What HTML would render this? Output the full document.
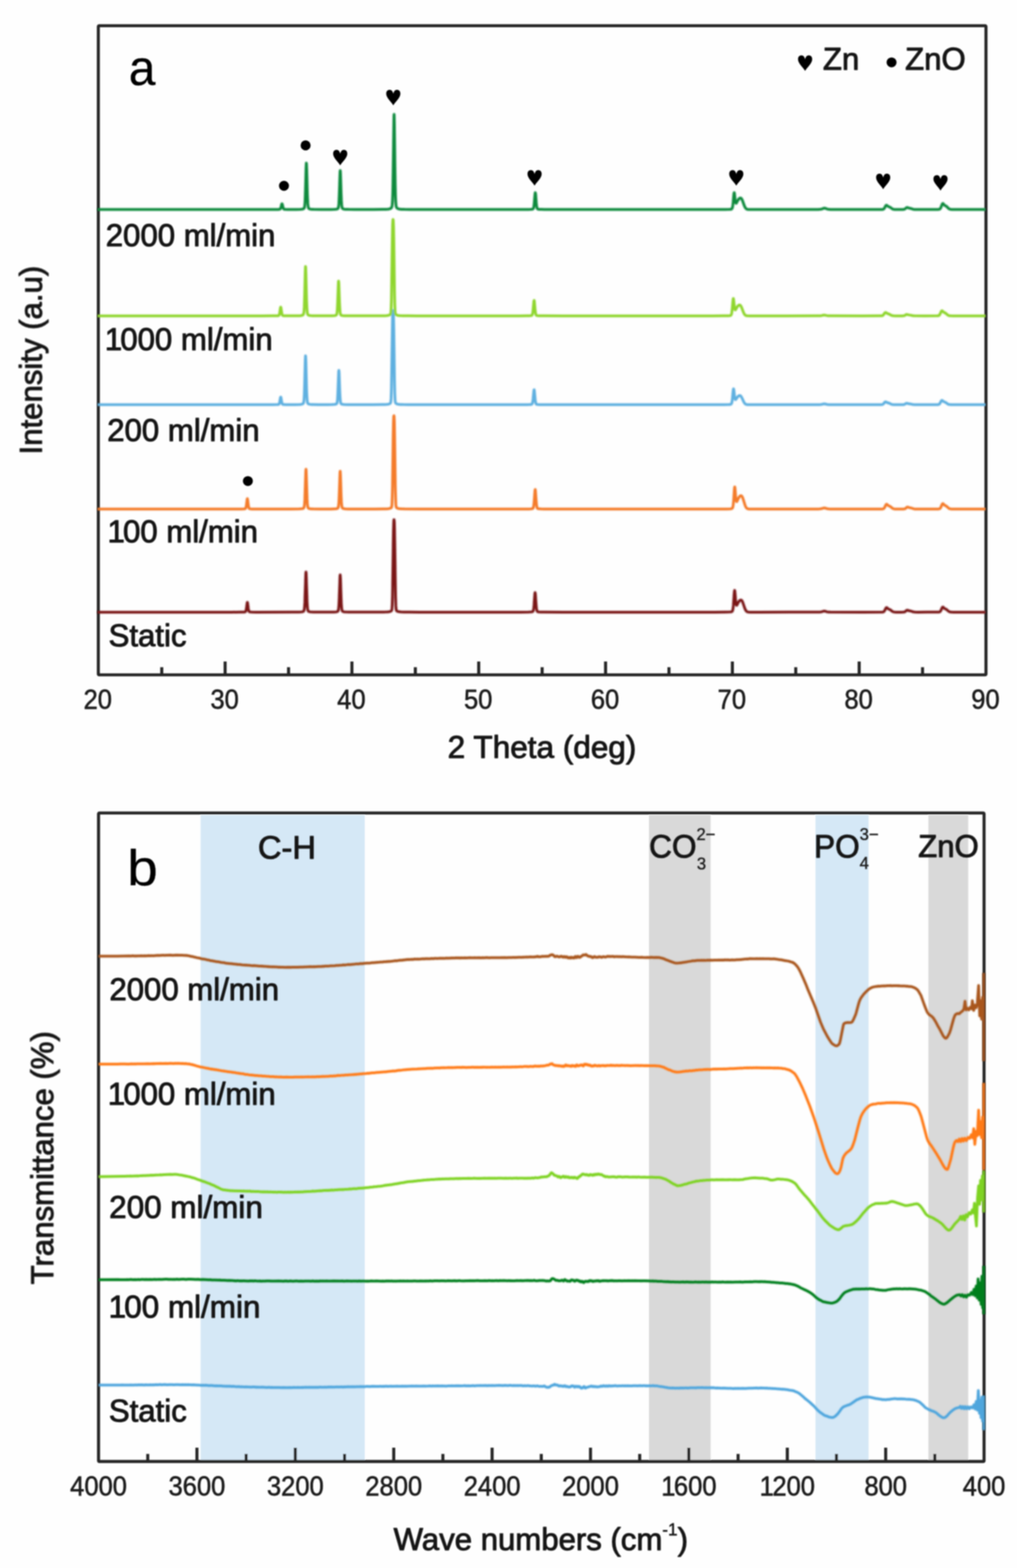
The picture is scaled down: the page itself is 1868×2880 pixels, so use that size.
<!DOCTYPE html>
<html lang="en">
<head>
<meta charset="utf-8">
<title>XRD patterns and FTIR spectra</title>
<style>
html,body{margin:0;padding:0;background:#fefefe;}
body{width:1868px;height:2880px;overflow:hidden;}
svg{display:block;}
</style>
</head>
<body>
<svg width="1868" height="2880" viewBox="0 0 1868 2880" font-family='"Liberation Sans", Arial, Helvetica, sans-serif' fill="#161616" stroke="#161616" stroke-width="1.6" stroke-linejoin="round">
<defs><filter id="soft" x="-2%" y="-2%" width="104%" height="104%"><feGaussianBlur stdDeviation="1.0"/></filter><filter id="softc" x="-2%" y="-2%" width="104%" height="104%"><feGaussianBlur stdDeviation="1.35"/></filter></defs>
<rect width="1868" height="2880" fill="#fefefe" stroke="none"/>
<g filter="url(#soft)">
<rect x="368.5" y="1497.3" width="301.5" height="1185.1" fill="#d5e8f6" stroke="none"/>
<rect x="1192.0" y="1497.3" width="113.3" height="1185.1" fill="#d9d9d9" stroke="none"/>
<rect x="1497.8" y="1497.3" width="97.6" height="1185.1" fill="#d5e8f6" stroke="none"/>
<rect x="1705.2" y="1497.3" width="73.2" height="1185.1" fill="#d9d9d9" stroke="none"/>
<rect x="180.6" y="47.2" width="1630.4" height="1192.3" rx="1.5" ry="1.5" fill="none" stroke="#262626" stroke-width="5.6"/>
<rect x="181.0" y="1493.3" width="1626.5" height="1191.1" rx="1.5" ry="1.5" fill="none" stroke="#262626" stroke-width="5.6"/>
<path d="M297.1 1239.5v-14M413.5 1239.5v-24.5M530.0 1239.5v-14M646.4 1239.5v-24.5M762.9 1239.5v-14M879.3 1239.5v-24.5M995.8 1239.5v-14M1112.3 1239.5v-24.5M1228.7 1239.5v-14M1345.2 1239.5v-24.5M1461.6 1239.5v-14M1578.1 1239.5v-24.5M1694.5 1239.5v-14M271.4 2684.4v-14M361.7 2684.4v-25.5M452.1 2684.4v-14M542.4 2684.4v-25.5M632.8 2684.4v-14M723.2 2684.4v-25.5M813.5 2684.4v-14M903.9 2684.4v-25.5M994.2 2684.4v-14M1084.6 2684.4v-25.5M1175.0 2684.4v-14M1265.3 2684.4v-25.5M1355.7 2684.4v-14M1446.1 2684.4v-25.5M1536.4 2684.4v-14M1626.8 2684.4v-25.5M1717.1 2684.4v-14" stroke="#262626" stroke-width="5.6" fill="none"/>
</g>
<g filter="url(#softc)">
<path d="M179.1 1124.4L426.1 1124.4L442.1 1124.3L448.1 1124.2L449.9 1124.0L450.6 1123.6L451.1 1123.1L451.6 1122.0L452.1 1120.0L452.4 1118.6L453.9 1107.6L454.1 1106.6L454.4 1106.4L454.6 1106.9L454.9 1108.1L456.1 1117.6L456.4 1119.2L456.9 1121.5L457.1 1122.3L457.6 1123.2L458.1 1123.7L458.6 1123.9L459.1 1124.0L462.6 1124.3L470.4 1124.4L534.6 1124.3L549.1 1124.2L552.6 1124.0L555.1 1123.7L556.4 1123.4L557.1 1123.1L557.6 1122.7L558.1 1122.0L558.6 1120.6L558.9 1119.4L559.4 1114.9L559.9 1106.7L560.1 1100.8L561.4 1060.6L561.6 1054.5L561.9 1051.0L562.1 1050.7L562.4 1053.6L562.6 1059.2L563.9 1099.5L564.1 1105.6L564.6 1114.3L565.1 1119.0L565.6 1121.3L566.1 1122.4L566.6 1122.9L567.1 1123.2L568.4 1123.6L570.1 1123.9L572.4 1124.1L575.4 1124.2L587.6 1124.3L606.9 1124.3L613.1 1124.2L616.9 1123.9L618.4 1123.7L619.4 1123.4L620.1 1123.0L620.6 1122.6L621.1 1121.8L621.6 1120.0L622.1 1116.2L622.4 1113.1L622.6 1109.0L623.1 1097.4L624.4 1060.7L624.6 1056.9L624.9 1055.9L625.1 1058.1L625.4 1062.9L626.6 1100.1L627.1 1110.8L627.6 1117.2L628.1 1120.5L628.6 1122.0L628.9 1122.4L629.4 1122.9L630.1 1123.3L631.4 1123.7L632.9 1123.9L634.9 1124.1L641.1 1124.3L653.4 1124.3L687.9 1124.3L704.6 1124.2L709.1 1124.1L712.4 1123.9L714.9 1123.6L716.6 1123.1L717.6 1122.7L718.4 1122.3L718.9 1121.9L719.4 1121.1L719.6 1120.3L719.9 1118.8L720.1 1116.2L720.4 1111.8L720.9 1095.2L721.1 1082.0L722.1 1008.5L722.6 977.0L722.9 966.4L723.1 959.4L723.4 955.7L723.6 954.5L723.9 954.6L724.1 956.2L724.4 960.5L724.6 968.2L725.1 994.5L726.4 1084.9L726.6 1097.4L727.1 1112.9L727.4 1116.8L727.6 1119.2L727.9 1120.5L728.1 1121.2L728.6 1121.9L729.6 1122.6L731.1 1123.2L732.9 1123.6L736.6 1124.0L742.6 1124.2L752.6 1124.3L770.9 1124.4L956.1 1124.4L970.6 1124.3L974.1 1124.1L976.4 1123.9L977.9 1123.6L978.6 1123.2L979.1 1122.5L979.4 1121.9L979.9 1119.9L980.4 1116.5L980.9 1111.2L981.9 1096.6L982.4 1090.5L982.6 1088.8L982.9 1088.4L983.1 1089.3L983.4 1091.4L984.6 1109.2L985.1 1115.1L985.4 1117.3L985.9 1120.4L986.4 1122.1L986.6 1122.6L987.1 1123.2L987.6 1123.6L988.1 1123.7L989.9 1124.0L993.4 1124.2L999.6 1124.3L1035.1 1124.4L1312.1 1124.4L1332.3 1124.3L1340.3 1124.1L1343.1 1123.8L1343.8 1123.6L1344.6 1123.2L1345.1 1122.6L1345.3 1122.2L1345.8 1120.8L1346.1 1119.7L1346.6 1116.4L1347.1 1111.4L1348.3 1093.1L1348.8 1086.9L1349.1 1085.1L1349.3 1084.4L1349.6 1084.9L1349.8 1086.5L1350.1 1088.9L1351.1 1101.6L1351.6 1106.7L1352.1 1109.9L1352.3 1110.9L1352.6 1111.5L1352.8 1111.8L1353.1 1111.8L1353.3 1111.7L1353.6 1111.4L1356.3 1106.1L1357.3 1104.6L1358.3 1103.4L1359.3 1102.6L1360.1 1102.2L1360.8 1102.1L1361.6 1102.3L1362.1 1102.6L1362.6 1103.2L1363.1 1103.9L1363.8 1105.4L1365.1 1108.7L1367.8 1116.8L1368.8 1119.2L1369.8 1121.1L1370.8 1122.4L1371.3 1122.9L1372.1 1123.4L1373.3 1124.0L1375.1 1124.3L1378.3 1124.4L1393.8 1124.4L1502.3 1124.3L1505.3 1124.2L1507.6 1124.0L1509.3 1123.6L1512.6 1122.6L1514.1 1122.4L1515.6 1122.6L1518.6 1123.6L1520.3 1124.0L1522.3 1124.2L1525.1 1124.3L1584.6 1124.4L1620.1 1124.3L1621.3 1124.2L1622.3 1124.0L1623.1 1123.7L1623.8 1123.0L1624.8 1121.7L1626.8 1117.6L1627.3 1116.8L1627.8 1116.2L1628.1 1116.1L1628.6 1116.0L1628.8 1116.0L1629.3 1116.3L1630.8 1117.8L1631.6 1118.4L1632.3 1118.8L1634.3 1119.5L1635.1 1119.9L1636.1 1120.6L1638.3 1122.5L1639.3 1123.1L1640.1 1123.5L1641.1 1123.9L1642.1 1124.1L1643.3 1124.3L1646.3 1124.4L1655.3 1124.4L1658.8 1124.3L1660.3 1124.2L1661.3 1124.0L1662.1 1123.7L1663.1 1123.0L1664.6 1121.6L1665.3 1121.1L1666.1 1120.7L1666.6 1120.7L1667.3 1120.9L1669.6 1121.8L1673.1 1122.4L1677.3 1123.8L1678.8 1124.1L1680.3 1124.3L1686.3 1124.4L1722.8 1124.3L1724.3 1124.2L1725.3 1124.1L1726.1 1123.8L1726.8 1123.2L1727.6 1122.3L1728.1 1121.4L1730.1 1116.9L1730.6 1116.0L1731.1 1115.3L1731.3 1115.1L1731.8 1115.0L1732.1 1115.0L1732.6 1115.3L1734.3 1117.2L1735.1 1117.8L1735.8 1118.2L1737.6 1118.9L1738.6 1119.5L1741.6 1122.2L1742.8 1123.1L1744.3 1123.8L1745.3 1124.1L1746.3 1124.2L1748.1 1124.3L1751.3 1124.4L1810.3 1124.4" fill="none" stroke="#7a1216" stroke-width="5.0" stroke-linejoin="round" stroke-linecap="butt"/>
<path d="M179.1 935.0L426.1 935.0L442.1 934.9L448.1 934.8L449.9 934.5L450.6 934.2L451.1 933.6L451.6 932.4L452.1 930.3L452.4 928.8L453.9 917.2L454.1 916.2L454.4 916.0L454.6 916.6L454.9 917.8L456.1 927.8L456.4 929.5L456.9 931.9L457.1 932.7L457.6 933.8L458.1 934.3L458.6 934.5L459.1 934.6L460.4 934.8L462.6 934.9L470.1 935.0L534.1 934.9L549.1 934.8L552.6 934.6L555.1 934.3L556.4 934.0L557.1 933.7L557.6 933.3L558.1 932.6L558.6 931.2L558.9 930.0L559.4 925.6L559.9 917.4L560.1 911.6L561.4 871.6L561.6 865.6L561.9 862.1L562.1 861.8L562.4 864.6L562.6 870.3L563.9 910.3L564.1 916.4L564.6 925.0L565.1 929.7L565.6 931.9L566.1 933.0L566.6 933.5L567.1 933.8L568.4 934.2L570.1 934.5L572.4 934.7L575.4 934.8L587.9 934.9L607.1 934.9L613.1 934.7L616.9 934.5L618.4 934.2L619.4 934.0L620.1 933.6L620.6 933.2L621.1 932.4L621.6 930.5L622.1 926.7L622.4 923.5L622.6 919.4L623.1 907.6L624.4 870.3L624.6 866.5L624.9 865.5L625.1 867.7L625.4 872.6L626.6 910.3L627.1 921.2L627.6 927.7L628.1 931.0L628.6 932.6L628.9 933.0L629.4 933.5L630.1 933.9L631.4 934.3L632.9 934.5L634.9 934.7L640.9 934.9L652.6 934.9L687.4 934.9L704.4 934.8L708.9 934.7L712.1 934.5L714.6 934.2L716.4 933.7L717.4 933.4L718.1 932.9L718.6 932.5L719.1 931.8L719.4 931.0L719.6 929.7L719.9 927.4L720.1 923.4L720.6 907.8L720.9 895.2L722.1 803.9L722.6 777.4L722.9 769.7L723.1 765.3L723.4 763.7L723.6 763.6L723.9 764.8L724.1 768.5L724.4 775.6L724.6 786.3L725.1 818.0L726.1 892.2L726.4 905.5L726.9 922.3L727.1 926.7L727.4 929.3L727.6 930.8L727.9 931.7L728.4 932.5L728.9 932.9L729.6 933.3L731.1 933.9L732.9 934.2L736.9 934.6L743.1 934.8L772.6 935.0L956.4 935.0L970.9 934.9L974.4 934.7L976.6 934.5L978.1 934.2L978.9 933.7L979.4 933.0L979.6 932.3L980.1 930.3L980.6 926.7L981.1 921.1L982.4 903.2L982.6 900.7L982.9 899.2L983.1 899.1L983.4 900.3L983.6 902.6L985.1 923.6L985.4 926.2L985.9 930.0L986.4 932.2L986.6 932.9L987.1 933.7L987.6 934.1L988.1 934.3L990.1 934.6L993.9 934.8L1000.1 934.9L1037.6 935.0L1312.6 935.0L1332.6 934.9L1340.6 934.7L1343.1 934.4L1343.8 934.2L1344.6 933.9L1345.1 933.5L1345.3 933.1L1345.8 932.0L1346.1 931.1L1346.6 928.4L1347.1 924.1L1347.6 917.9L1348.8 899.1L1349.1 896.5L1349.3 894.9L1349.6 894.4L1349.8 895.1L1350.1 896.9L1351.3 912.0L1351.8 916.9L1352.3 919.9L1352.6 920.8L1352.8 921.2L1353.1 921.4L1353.3 921.3L1353.8 920.7L1356.6 914.8L1357.3 913.5L1358.3 912.1L1359.3 911.1L1360.3 910.5L1361.1 910.4L1361.8 910.7L1362.3 911.1L1362.8 911.7L1363.3 912.5L1364.1 914.2L1365.1 917.0L1368.1 926.8L1369.1 929.4L1369.8 931.0L1370.8 932.6L1371.3 933.2L1372.1 933.8L1372.8 934.3L1373.6 934.5L1375.3 934.9L1378.6 935.0L1392.8 935.0L1502.3 934.9L1505.3 934.8L1507.6 934.6L1509.3 934.2L1512.6 933.2L1514.1 933.0L1515.6 933.2L1518.6 934.2L1520.3 934.6L1522.3 934.8L1525.1 934.9L1588.1 935.0L1620.1 934.9L1621.3 934.8L1622.3 934.6L1623.1 934.2L1623.8 933.6L1624.8 932.1L1626.8 927.8L1627.3 927.0L1627.8 926.4L1628.1 926.2L1628.6 926.1L1628.8 926.1L1629.3 926.5L1630.8 928.0L1631.6 928.6L1632.3 929.0L1634.3 929.8L1635.1 930.3L1636.1 931.0L1638.3 932.9L1639.3 933.6L1640.1 934.0L1641.1 934.4L1642.1 934.7L1643.3 934.9L1646.3 935.0L1655.3 935.0L1659.1 934.9L1660.8 934.8L1661.8 934.6L1662.6 934.3L1663.6 933.6L1665.1 932.2L1665.8 931.7L1666.6 931.3L1667.1 931.3L1667.8 931.5L1670.1 932.4L1673.6 933.0L1677.8 934.4L1679.3 934.7L1680.8 934.9L1687.1 935.0L1722.8 934.9L1724.3 934.8L1725.3 934.6L1726.1 934.3L1726.8 933.7L1727.6 932.7L1728.1 931.8L1730.1 927.1L1730.6 926.1L1731.1 925.3L1731.3 925.1L1731.8 925.0L1732.1 925.0L1732.6 925.4L1734.1 927.1L1734.8 927.8L1735.6 928.3L1737.3 929.1L1738.3 929.7L1739.3 930.5L1741.6 932.6L1742.6 933.4L1743.3 933.9L1744.3 934.4L1745.3 934.6L1746.3 934.8L1748.1 934.9L1751.3 935.0L1810.3 935.0" fill="none" stroke="#f47b2a" stroke-width="5.0" stroke-linejoin="round" stroke-linecap="butt"/>
<path d="M179.1 743.3L480.1 743.3L501.4 743.3L508.9 743.1L510.6 743.0L511.6 742.8L512.1 742.5L512.4 742.3L512.9 741.5L513.4 740.0L513.6 739.0L515.1 730.4L515.4 729.6L515.6 729.3L515.9 729.6L516.1 730.4L517.4 737.7L517.9 740.0L518.1 740.9L518.6 742.0L519.1 742.5L519.6 742.8L521.1 743.1L524.6 743.2L541.9 743.2L550.1 743.0L552.6 742.7L554.4 742.4L555.4 742.1L556.1 741.8L556.6 741.4L557.1 740.8L557.6 739.5L557.9 738.4L558.4 734.4L558.9 726.5L559.1 720.5L559.6 704.2L560.6 664.0L560.9 657.2L561.1 653.6L561.4 654.0L561.6 658.3L561.9 665.7L563.1 714.6L563.4 721.8L563.9 731.8L564.4 737.2L564.9 739.7L565.4 740.9L565.9 741.5L566.4 741.8L567.6 742.3L569.1 742.6L571.1 742.9L574.1 743.0L584.4 743.2L602.6 743.2L610.1 743.1L614.4 742.8L615.9 742.6L617.1 742.3L617.9 741.9L618.4 741.5L618.9 740.5L619.4 738.4L619.9 734.1L620.1 730.7L620.6 720.9L621.9 686.7L622.1 682.3L622.4 680.3L622.6 681.2L622.9 684.7L624.1 718.5L624.6 729.1L624.9 732.9L625.1 735.7L625.6 739.2L626.1 740.9L626.4 741.3L626.9 741.9L627.6 742.3L628.9 742.6L630.4 742.8L632.4 743.0L638.9 743.2L651.6 743.2L685.4 743.2L702.1 743.1L706.9 743.0L710.1 742.8L712.6 742.5L714.4 742.1L715.4 741.7L716.4 741.1L716.9 740.7L717.4 739.9L717.6 739.1L717.9 737.6L718.1 735.2L718.4 731.2L718.9 716.0L719.1 704.1L720.4 616.3L720.9 588.5L721.1 579.6L721.4 573.9L721.6 571.1L721.9 570.3L722.1 570.6L722.4 572.5L722.6 576.9L722.9 584.5L723.4 609.8L724.6 698.4L725.1 721.7L725.4 729.0L725.6 733.8L725.9 736.8L726.1 738.6L726.4 739.6L726.6 740.2L726.9 740.6L727.4 741.1L728.4 741.6L729.6 742.1L731.4 742.5L735.1 742.9L740.6 743.1L749.6 743.2L765.4 743.3L953.9 743.3L968.6 743.2L972.1 743.1L974.6 742.9L976.1 742.7L976.9 742.3L977.4 741.7L977.6 741.3L978.1 739.7L978.6 736.9L979.1 732.7L980.4 719.0L980.6 717.1L980.9 716.0L981.1 715.9L981.4 716.8L981.6 718.5L983.1 734.6L983.4 736.6L983.9 739.5L984.4 741.1L984.6 741.7L985.1 742.3L985.6 742.6L986.1 742.7L988.1 743.0L991.6 743.2L997.6 743.2L1031.8 743.3L1310.1 743.3L1330.3 743.2L1338.3 743.1L1341.1 742.9L1341.8 742.7L1342.6 742.4L1343.1 742.0L1343.3 741.7L1343.8 740.7L1344.1 739.9L1344.6 737.5L1345.1 733.9L1346.3 720.5L1346.8 716.0L1347.1 714.7L1347.3 714.2L1347.6 714.6L1347.8 715.7L1348.1 717.5L1349.1 726.6L1349.6 730.3L1350.1 732.6L1350.3 733.3L1350.6 733.7L1350.8 733.9L1351.1 733.9L1351.6 733.6L1354.3 729.6L1355.3 728.4L1356.3 727.6L1357.3 726.9L1358.1 726.6L1358.8 726.6L1359.6 726.7L1360.1 727.0L1360.6 727.4L1361.1 728.0L1361.8 729.1L1363.1 731.5L1365.8 737.6L1366.8 739.4L1367.8 740.8L1368.8 741.8L1370.1 742.6L1371.3 743.0L1373.1 743.2L1376.3 743.3L1391.8 743.3L1502.3 743.2L1505.3 743.2L1507.6 743.0L1509.3 742.7L1512.6 741.9L1514.1 741.8L1515.6 742.0L1518.6 742.7L1520.3 743.0L1522.3 743.2L1524.8 743.2L1562.6 743.3L1618.1 743.2L1620.3 743.1L1621.1 742.8L1621.8 742.5L1622.8 741.6L1624.8 739.1L1625.3 738.6L1626.1 738.1L1626.6 738.1L1627.3 738.3L1629.6 739.5L1633.1 740.5L1636.3 742.1L1637.6 742.6L1639.3 743.0L1641.3 743.2L1644.3 743.3L1654.8 743.3L1659.3 743.2L1660.3 743.0L1661.1 742.8L1662.1 742.3L1664.3 740.9L1665.1 740.7L1665.6 740.7L1666.3 740.8L1668.8 741.5L1672.3 742.0L1676.3 742.9L1677.8 743.1L1679.3 743.2L1686.1 743.3L1721.3 743.2L1722.8 743.2L1723.8 743.0L1724.6 742.7L1725.3 742.2L1726.1 741.4L1726.6 740.6L1728.8 736.4L1729.6 735.6L1730.1 735.4L1730.6 735.5L1731.1 735.8L1732.6 737.1L1733.6 737.8L1735.8 738.7L1737.1 739.3L1739.8 741.3L1741.1 742.1L1741.8 742.5L1742.8 742.8L1744.6 743.1L1746.3 743.2L1749.6 743.3L1810.3 743.3" fill="none" stroke="#5fb0e0" stroke-width="5.0" stroke-linejoin="round" stroke-linecap="butt"/>
<path d="M179.1 580.2L480.6 580.2L501.6 580.1L508.9 580.0L510.6 579.9L511.6 579.7L512.1 579.3L512.4 579.1L512.9 578.2L513.4 576.5L513.6 575.3L515.1 565.5L515.4 564.5L515.6 564.2L515.9 564.5L516.1 565.5L517.4 573.8L517.9 576.5L518.1 577.4L518.6 578.7L519.1 579.3L519.6 579.6L520.1 579.8L521.1 579.9L524.4 580.1L540.9 580.1L549.9 579.9L552.4 579.7L554.4 579.3L555.4 579.0L556.1 578.7L556.6 578.3L557.1 577.7L557.6 576.4L557.9 575.3L558.4 571.2L558.9 563.2L559.1 557.1L559.6 540.6L560.6 500.1L560.9 493.1L561.1 489.5L561.4 489.9L561.6 494.2L561.9 501.8L563.1 551.2L563.4 558.5L563.9 568.6L564.4 574.0L564.9 576.6L565.4 577.8L565.9 578.4L566.4 578.7L567.6 579.2L569.1 579.5L571.1 579.8L574.1 579.9L584.4 580.1L602.4 580.1L609.9 580.0L614.1 579.7L615.6 579.5L616.6 579.2L617.4 578.8L617.9 578.4L618.4 577.4L618.9 575.3L619.4 570.9L619.6 567.4L620.1 557.5L621.4 522.7L621.6 518.2L621.9 516.2L622.1 517.1L622.4 520.6L623.6 555.0L624.1 565.8L624.4 569.6L624.6 572.5L625.1 576.1L625.6 577.8L625.9 578.2L626.4 578.8L627.1 579.2L628.4 579.5L629.9 579.7L632.1 579.9L638.6 580.1L651.6 580.1L685.6 580.1L702.1 580.0L706.9 579.9L710.1 579.7L712.6 579.3L714.4 578.9L715.4 578.5L716.4 578.0L716.9 577.5L717.4 576.7L717.6 575.9L717.9 574.4L718.1 571.9L718.4 567.8L718.9 552.3L719.1 540.1L720.4 450.3L720.9 421.8L721.1 412.7L721.4 406.9L721.6 404.0L721.9 403.2L722.1 403.5L722.4 405.4L722.6 410.0L722.9 417.7L723.4 443.6L724.6 534.3L725.1 558.2L725.4 565.6L725.6 570.5L725.9 573.6L726.1 575.4L726.4 576.4L726.6 577.0L726.9 577.4L727.4 577.9L728.4 578.5L729.6 579.0L731.4 579.4L735.1 579.8L740.6 580.0L749.6 580.1L765.4 580.2L953.9 580.2L968.6 580.1L972.1 580.0L974.6 579.8L976.1 579.6L976.9 579.2L977.4 578.6L977.6 578.1L978.1 576.5L978.6 573.6L979.1 569.2L980.4 555.0L980.6 553.0L980.9 551.9L981.1 551.8L981.4 552.7L981.6 554.5L983.1 571.2L983.4 573.2L983.9 576.2L984.4 578.0L984.6 578.5L985.1 579.1L985.6 579.4L986.1 579.6L988.1 579.9L991.6 580.1L997.9 580.1L1033.3 580.2L1309.3 580.2L1329.8 580.1L1337.8 580.0L1340.6 579.7L1341.3 579.6L1342.1 579.3L1342.6 578.9L1342.8 578.6L1343.3 577.6L1343.6 576.8L1344.1 574.4L1344.6 570.7L1345.1 565.6L1346.1 553.4L1346.6 549.2L1346.8 548.3L1347.1 548.3L1347.3 549.2L1347.8 553.0L1348.6 560.6L1349.1 564.8L1349.6 567.5L1349.8 568.4L1350.1 568.9L1350.3 569.2L1350.6 569.2L1351.1 568.8L1351.6 568.0L1353.8 564.0L1354.8 562.6L1355.8 561.5L1356.8 560.7L1357.6 560.3L1358.3 560.2L1359.1 560.3L1359.8 560.8L1360.3 561.4L1360.8 562.1L1361.6 563.5L1362.6 565.8L1365.6 573.8L1366.6 575.9L1367.3 577.1L1368.3 578.3L1368.8 578.8L1369.6 579.3L1370.3 579.6L1371.1 579.9L1372.8 580.1L1376.1 580.2L1391.1 580.2L1502.3 580.1L1505.3 580.1L1507.6 579.9L1509.3 579.6L1512.6 578.8L1514.1 578.7L1515.6 578.9L1518.6 579.6L1520.3 579.9L1522.3 580.1L1525.1 580.1L1583.3 580.2L1618.1 580.1L1619.3 580.1L1620.3 579.9L1621.1 579.6L1621.8 579.2L1622.8 578.1L1624.8 575.1L1625.3 574.5L1626.1 574.0L1626.6 573.9L1627.3 574.2L1628.8 575.2L1629.6 575.7L1630.3 576.0L1632.3 576.6L1633.1 576.9L1636.3 578.7L1637.3 579.2L1639.1 579.8L1641.3 580.1L1644.3 580.2L1653.6 580.2L1657.6 580.2L1659.3 580.1L1660.3 579.9L1661.1 579.7L1662.1 579.2L1664.3 577.8L1665.1 577.6L1665.6 577.6L1666.3 577.7L1668.8 578.4L1672.3 578.9L1676.3 579.8L1677.8 580.0L1679.6 580.1L1697.6 580.2L1721.3 580.1L1722.8 580.0L1723.8 579.8L1724.6 579.5L1725.3 578.9L1726.1 577.9L1726.6 577.0L1728.8 572.1L1729.6 571.0L1730.1 570.8L1730.6 570.9L1731.1 571.2L1732.6 572.8L1733.6 573.6L1735.8 574.6L1736.8 575.2L1737.8 576.0L1739.8 577.8L1741.1 578.8L1741.8 579.2L1742.8 579.6L1743.8 579.9L1744.8 580.0L1746.6 580.1L1749.8 580.2L1810.3 580.2" fill="none" stroke="#8fd62f" stroke-width="5.0" stroke-linejoin="round" stroke-linecap="butt"/>
<path d="M179.1 384.8L480.4 384.8L503.1 384.8L510.9 384.7L512.6 384.6L513.6 384.4L514.4 384.1L514.9 383.6L515.4 382.7L515.6 382.1L516.1 380.4L517.4 375.2L517.6 374.6L517.9 374.3L518.1 374.4L518.4 374.9L518.6 375.7L519.9 380.9L520.4 382.5L520.6 383.0L521.1 383.8L521.6 384.2L522.1 384.4L523.6 384.6L527.4 384.7L544.6 384.7L551.9 384.5L554.1 384.3L555.9 384.0L556.9 383.7L557.6 383.4L558.1 383.0L558.6 382.4L559.1 381.2L559.4 380.2L559.9 376.3L560.4 368.8L560.6 363.1L561.1 347.6L562.1 309.5L562.4 303.0L562.6 299.6L562.9 300.0L563.1 304.0L563.4 311.1L564.6 357.6L564.9 364.4L565.4 373.9L565.9 379.0L566.4 381.4L566.9 382.5L567.4 383.1L567.9 383.4L569.1 383.9L570.9 384.2L573.1 384.4L576.1 384.6L588.6 384.7L607.9 384.7L613.9 384.5L617.4 384.2L618.6 384.0L619.6 383.7L620.4 383.3L620.9 382.7L621.4 381.7L621.9 379.3L622.4 374.4L622.6 370.6L623.1 359.4L624.4 320.6L624.6 315.6L624.9 313.3L625.1 314.3L625.4 318.3L626.6 356.6L627.1 368.7L627.4 373.0L627.6 376.2L628.1 380.2L628.6 382.1L628.9 382.6L629.4 383.2L630.1 383.6L631.1 384.0L632.6 384.2L634.6 384.4L640.4 384.6L651.4 384.7L685.9 384.7L703.6 384.6L708.4 384.5L711.9 384.2L714.4 383.9L716.1 383.5L717.4 382.9L718.4 382.2L719.1 381.4L719.6 380.3L720.1 378.2L720.4 376.3L720.9 369.6L721.4 355.9L721.6 345.5L722.1 315.9L723.4 222.0L723.6 212.3L723.9 210.0L724.1 215.4L724.4 227.6L725.4 305.0L725.9 337.8L726.4 359.4L726.9 371.3L727.4 377.1L727.9 379.8L728.4 381.1L729.1 382.1L729.6 382.5L730.4 383.0L731.9 383.6L733.6 384.0L737.4 384.4L743.1 384.6L752.6 384.7L769.4 384.8L956.4 384.8L971.1 384.7L974.6 384.6L976.9 384.4L978.4 384.1L979.1 383.6L979.6 382.9L979.9 382.4L980.4 380.5L980.9 377.2L981.1 375.0L982.6 356.9L982.9 354.9L983.1 353.9L983.4 354.0L983.6 355.2L983.9 357.4L985.1 372.9L985.6 377.6L986.1 380.7L986.6 382.5L986.9 383.0L987.4 383.7L987.9 384.0L988.4 384.2L990.4 384.5L993.9 384.6L999.9 384.7L1032.6 384.8L1311.3 384.8L1331.6 384.7L1339.6 384.6L1342.1 384.4L1342.8 384.2L1343.6 384.0L1344.3 383.4L1344.8 382.5L1345.1 381.8L1345.6 379.8L1346.1 376.5L1346.6 371.8L1347.8 357.5L1348.1 355.5L1348.3 354.2L1348.6 353.8L1348.8 354.3L1349.1 355.6L1350.3 366.8L1350.8 370.3L1351.1 371.6L1351.3 372.5L1351.6 373.1L1351.8 373.3L1352.1 373.4L1352.3 373.3L1352.6 373.0L1353.1 372.2L1354.6 369.2L1355.6 367.5L1356.6 366.0L1357.6 364.9L1358.6 364.1L1359.3 363.8L1360.1 363.7L1360.8 363.9L1361.3 364.2L1361.8 364.8L1362.3 365.5L1363.1 366.9L1364.1 369.3L1367.1 377.8L1368.1 380.0L1369.1 381.8L1370.1 383.0L1370.6 383.4L1371.3 383.9L1372.1 384.3L1372.8 384.5L1374.6 384.7L1378.8 384.8L1414.1 384.8L1485.1 384.8L1502.8 384.7L1505.8 384.6L1507.8 384.3L1509.6 383.8L1512.8 382.6L1513.6 382.4L1514.3 382.3L1515.1 382.4L1515.8 382.5L1519.1 383.8L1520.6 384.2L1522.6 384.6L1525.3 384.7L1556.8 384.8L1619.6 384.7L1620.8 384.7L1621.8 384.5L1622.6 384.2L1623.3 383.7L1624.1 382.9L1624.6 382.1L1626.8 377.9L1627.6 377.1L1628.1 376.9L1628.6 377.0L1629.1 377.3L1630.6 378.6L1631.6 379.3L1633.8 380.2L1635.1 380.8L1637.8 382.8L1639.1 383.6L1639.8 384.0L1640.8 384.3L1641.8 384.5L1643.1 384.7L1646.1 384.8L1656.1 384.8L1658.6 384.7L1660.1 384.6L1661.1 384.3L1661.8 384.0L1662.8 383.3L1664.8 381.5L1665.6 381.2L1666.1 381.1L1666.8 381.2L1669.1 382.1L1672.6 382.8L1676.8 384.2L1678.3 384.5L1680.1 384.7L1687.6 384.8L1722.8 384.7L1724.3 384.6L1725.3 384.4L1726.1 384.0L1726.8 383.4L1727.6 382.3L1728.1 381.3L1730.1 376.1L1730.6 375.0L1731.1 374.2L1731.3 373.9L1731.8 373.8L1732.1 373.8L1732.6 374.2L1734.3 376.4L1735.1 377.1L1735.8 377.5L1737.6 378.4L1738.6 379.1L1741.6 382.2L1742.6 383.1L1743.3 383.6L1744.3 384.1L1745.3 384.4L1746.3 384.6L1748.1 384.7L1751.3 384.8L1810.3 384.8" fill="none" stroke="#0a8a3c" stroke-width="5.0" stroke-linejoin="round" stroke-linecap="butt"/>
<path d="M181.0 2544.1L222.0 2544.1L224.0 2543.8L226.5 2544.1L229.0 2543.9L231.0 2544.1L233.5 2544.0L238.0 2544.1L240.0 2543.7L242.0 2544.1L244.0 2544.1L244.5 2543.9L247.0 2543.9L248.0 2543.7L250.0 2543.7L250.5 2543.9L255.0 2543.6L257.5 2543.7L260.0 2543.6L265.0 2544.0L267.5 2543.5L270.0 2543.8L272.0 2543.7L274.5 2543.8L276.0 2543.6L278.5 2543.8L281.5 2543.6L283.0 2543.7L286.0 2543.3L290.0 2543.6L294.0 2543.1L297.0 2543.5L302.5 2543.1L306.5 2543.5L311.5 2543.2L313.5 2543.3L315.5 2543.2L319.5 2543.4L323.5 2543.2L325.5 2543.3L326.5 2543.2L332.0 2543.4L335.0 2543.2L339.0 2543.5L340.5 2543.2L342.5 2543.4L346.0 2543.3L347.0 2543.5L350.5 2543.4L352.0 2543.8L355.0 2543.5L361.5 2544.0L364.0 2543.9L364.5 2544.1L370.0 2544.4L372.5 2544.2L375.0 2544.6L378.0 2544.3L384.0 2544.9L385.5 2544.9L386.0 2544.7L388.0 2544.7L395.5 2545.4L398.0 2545.2L399.5 2545.4L406.5 2545.4L408.0 2545.8L410.0 2546.0L413.0 2546.0L414.5 2546.2L417.0 2546.1L420.5 2546.3L422.0 2546.1L424.5 2546.4L428.5 2546.3L430.0 2546.4L432.5 2546.9L435.0 2547.0L438.0 2546.7L441.0 2547.3L442.0 2547.1L449.0 2547.4L451.5 2547.2L454.5 2547.5L455.5 2547.4L460.5 2547.7L464.5 2547.4L465.5 2547.6L468.0 2547.5L470.0 2548.0L472.0 2547.7L474.5 2548.0L475.5 2547.9L480.5 2548.0L481.5 2547.8L490.0 2548.4L494.0 2548.0L496.0 2548.4L499.5 2548.2L502.0 2548.6L507.5 2548.4L509.5 2548.6L513.5 2548.4L516.0 2548.7L520.0 2548.4L528.0 2548.7L532.0 2548.5L536.0 2548.7L540.0 2548.3L541.5 2548.6L543.5 2548.4L545.0 2548.6L547.0 2548.3L549.5 2548.6L550.5 2548.4L552.0 2548.4L553.0 2548.6L555.5 2548.3L557.0 2548.5L558.5 2548.3L562.0 2548.1L564.5 2548.3L568.5 2548.0L572.0 2548.3L573.0 2548.1L577.5 2548.3L579.0 2548.1L581.5 2548.2L582.5 2548.0L585.0 2548.2L588.0 2547.6L589.0 2547.9L591.5 2547.9L592.5 2548.1L593.5 2547.9L595.5 2548.0L598.0 2547.7L598.5 2548.0L600.5 2547.9L603.0 2547.6L605.5 2547.7L607.0 2547.5L613.5 2547.7L617.5 2547.5L618.5 2547.6L621.0 2547.4L622.0 2547.7L624.0 2547.4L626.5 2547.4L627.0 2547.3L630.0 2547.7L632.5 2547.2L634.5 2547.5L639.0 2547.1L642.5 2547.3L646.5 2547.0L649.0 2547.2L650.0 2547.0L652.0 2547.2L654.5 2547.0L659.5 2547.1L662.5 2546.8L666.0 2547.1L668.0 2546.7L670.5 2546.9L672.0 2546.6L675.0 2546.6L679.5 2546.8L684.0 2546.3L685.0 2546.5L687.5 2546.3L689.5 2546.6L691.0 2546.4L693.5 2546.6L696.0 2546.4L697.0 2546.4L698.0 2546.2L701.5 2546.5L704.5 2546.2L707.0 2546.4L708.0 2546.1L708.5 2546.3L709.5 2546.1L712.0 2546.4L715.0 2546.2L717.5 2546.2L718.0 2546.0L720.5 2546.4L722.0 2546.2L726.5 2546.2L729.0 2545.9L731.5 2546.2L735.5 2546.2L739.0 2545.9L743.5 2546.2L744.5 2545.9L747.0 2546.2L750.5 2545.9L753.5 2546.1L755.5 2545.8L761.0 2546.1L763.5 2545.7L768.5 2546.0L772.5 2545.9L774.5 2546.0L778.0 2545.7L782.5 2545.9L786.5 2545.8L789.5 2545.5L792.0 2545.9L794.5 2545.6L796.0 2545.8L804.5 2545.5L809.5 2545.8L812.0 2545.6L814.0 2545.8L816.5 2545.7L820.5 2545.9L823.0 2545.4L827.0 2545.6L828.5 2545.4L829.0 2545.5L829.5 2545.3L832.0 2545.6L833.5 2545.4L836.0 2545.5L838.0 2545.2L839.5 2545.4L841.0 2545.3L846.0 2545.5L851.5 2545.3L853.5 2545.0L856.0 2545.5L859.5 2545.2L864.5 2545.5L869.0 2545.1L871.5 2545.4L876.0 2545.0L878.5 2545.1L880.0 2544.9L881.0 2545.1L883.5 2544.8L884.0 2545.0L885.5 2545.1L892.5 2544.8L895.0 2545.2L897.5 2544.7L900.5 2545.0L903.0 2544.7L909.0 2545.0L912.0 2544.7L917.5 2544.6L919.5 2544.8L921.0 2544.7L923.0 2544.9L924.0 2544.8L925.0 2544.9L927.5 2544.5L932.5 2545.0L937.0 2544.5L938.5 2544.6L941.0 2545.1L944.5 2544.7L948.5 2544.9L950.5 2544.7L953.0 2544.9L956.5 2544.7L958.0 2544.8L959.5 2545.3L961.5 2545.4L964.5 2545.0L966.0 2545.5L968.0 2545.3L968.5 2545.1L970.5 2545.1L972.5 2545.6L975.0 2545.6L977.0 2545.9L979.5 2545.5L980.5 2545.5L983.5 2546.0L984.5 2546.0L987.0 2545.3L989.5 2546.3L991.5 2546.4L993.5 2546.1L996.0 2546.6L998.0 2546.2L999.5 2545.6L1001.0 2546.3L1002.0 2547.1L1003.5 2547.7L1004.0 2548.1L1004.5 2547.9L1005.5 2548.0L1006.0 2548.3L1006.5 2547.9L1007.0 2548.2L1008.5 2547.7L1009.0 2547.9L1010.5 2546.9L1012.0 2545.5L1013.0 2545.0L1013.5 2545.1L1014.0 2544.6L1014.5 2544.8L1015.5 2544.1L1016.5 2544.3L1017.0 2543.6L1019.0 2542.6L1020.0 2543.7L1020.5 2543.5L1021.0 2543.8L1022.0 2544.0L1022.5 2543.7L1023.0 2543.9L1023.5 2543.8L1024.5 2544.1L1025.5 2545.3L1027.0 2545.9L1027.5 2545.4L1028.0 2545.5L1029.0 2545.0L1029.5 2545.2L1030.0 2545.8L1031.0 2545.7L1031.5 2546.0L1032.0 2546.0L1032.5 2545.6L1033.0 2545.8L1033.5 2546.3L1034.0 2546.4L1034.5 2546.1L1035.0 2546.6L1036.0 2545.6L1036.5 2545.3L1037.0 2545.5L1037.5 2545.2L1038.0 2545.3L1038.5 2546.4L1039.0 2546.4L1039.5 2547.0L1040.0 2546.8L1040.5 2546.9L1041.0 2546.5L1041.5 2546.5L1042.0 2546.2L1043.0 2547.2L1044.5 2547.7L1045.5 2547.2L1047.0 2547.5L1048.5 2546.7L1049.5 2545.6L1050.0 2545.6L1050.5 2545.9L1051.5 2545.6L1052.0 2545.9L1053.0 2545.5L1054.5 2547.3L1055.5 2548.0L1057.0 2546.3L1057.5 2546.2L1058.0 2546.1L1058.5 2546.6L1059.0 2546.5L1059.5 2546.7L1060.0 2547.3L1060.5 2546.6L1061.0 2546.4L1061.5 2547.2L1062.0 2547.1L1062.5 2546.6L1063.5 2547.3L1064.0 2546.5L1064.5 2546.6L1065.0 2547.2L1066.0 2547.7L1067.0 2549.3L1068.5 2549.8L1069.5 2549.2L1070.5 2549.0L1071.5 2547.3L1072.0 2547.4L1073.0 2546.7L1074.0 2548.7L1074.5 2549.0L1075.0 2549.1L1075.5 2549.6L1077.0 2548.4L1078.0 2548.0L1078.5 2548.2L1080.0 2547.6L1081.0 2547.5L1082.5 2546.7L1083.0 2546.8L1084.5 2546.3L1085.0 2546.5L1085.5 2546.0L1086.5 2545.7L1087.5 2546.5L1089.0 2547.1L1089.5 2546.9L1090.0 2546.2L1090.5 2546.2L1091.5 2546.7L1092.5 2546.8L1093.0 2547.2L1094.0 2546.8L1094.5 2546.9L1095.0 2546.8L1096.5 2547.3L1097.0 2547.2L1097.5 2547.6L1099.0 2546.9L1101.5 2547.1L1102.0 2546.6L1103.5 2545.8L1104.0 2545.8L1104.5 2546.2L1105.0 2546.0L1106.0 2546.4L1107.5 2545.7L1108.0 2545.2L1108.5 2545.0L1109.5 2545.4L1110.5 2546.1L1111.0 2545.9L1111.5 2546.3L1112.0 2546.3L1112.5 2545.8L1113.5 2545.9L1114.0 2545.4L1114.5 2545.3L1115.5 2546.0L1116.5 2546.3L1117.5 2546.0L1118.5 2545.1L1119.5 2545.5L1120.0 2545.4L1121.0 2545.9L1121.5 2545.9L1122.0 2545.6L1123.0 2545.9L1124.5 2545.5L1125.0 2545.7L1126.5 2545.4L1127.0 2545.6L1127.5 2545.3L1128.0 2545.3L1129.0 2545.4L1130.0 2545.1L1131.5 2545.3L1132.5 2545.7L1135.0 2545.8L1135.5 2545.6L1137.5 2545.4L1141.5 2545.6L1143.0 2545.3L1144.0 2545.3L1145.5 2545.6L1148.0 2545.2L1149.0 2545.5L1154.0 2545.2L1156.5 2545.6L1158.0 2545.4L1161.0 2545.6L1163.5 2545.1L1164.0 2545.3L1169.0 2545.2L1171.0 2545.5L1173.5 2545.1L1176.0 2545.3L1177.5 2545.1L1179.5 2545.4L1182.5 2545.1L1183.5 2545.1L1185.0 2545.4L1186.5 2545.2L1191.0 2545.4L1192.5 2545.2L1195.5 2545.4L1200.5 2545.1L1202.0 2545.5L1205.0 2545.4L1207.0 2545.6L1211.0 2546.4L1216.5 2547.1L1220.5 2547.8L1221.0 2548.0L1223.5 2548.3L1227.0 2549.0L1232.5 2549.5L1235.5 2549.3L1241.0 2549.7L1243.0 2549.4L1247.5 2549.8L1249.5 2549.3L1251.0 2549.5L1253.0 2549.3L1255.5 2549.5L1258.5 2549.2L1259.0 2549.3L1261.5 2549.2L1262.5 2549.5L1264.0 2549.5L1267.5 2549.0L1269.5 2549.1L1271.0 2548.9L1274.0 2549.1L1276.5 2548.9L1279.0 2549.2L1280.5 2548.7L1287.5 2548.8L1289.5 2548.6L1293.5 2549.1L1296.5 2548.7L1300.5 2549.0L1303.0 2548.8L1304.0 2549.0L1307.0 2548.8L1307.5 2549.1L1310.0 2548.8L1314.0 2549.4L1318.0 2549.2L1320.5 2549.6L1325.5 2549.7L1330.5 2549.5L1331.5 2549.7L1333.5 2549.7L1336.0 2550.0L1337.0 2549.9L1342.5 2550.0L1347.5 2550.4L1350.0 2550.1L1352.5 2550.3L1356.0 2550.1L1358.5 2550.3L1364.0 2549.9L1369.5 2550.2L1375.5 2549.7L1381.5 2549.7L1385.5 2549.4L1388.0 2549.5L1389.5 2549.2L1392.5 2549.7L1397.5 2549.3L1401.0 2549.6L1403.5 2549.5L1406.0 2549.8L1408.0 2549.6L1411.0 2550.0L1413.5 2549.9L1414.0 2550.1L1415.0 2550.0L1417.5 2550.4L1418.5 2550.2L1421.0 2550.5L1423.5 2550.4L1426.0 2550.8L1435.0 2551.4L1436.5 2551.7L1438.0 2551.6L1446.0 2552.5L1451.0 2553.5L1453.5 2553.7L1456.5 2554.3L1458.5 2554.8L1461.0 2556.1L1463.5 2556.9L1467.0 2558.7L1469.0 2560.1L1475.5 2565.6L1478.5 2568.6L1481.0 2570.4L1488.0 2576.1L1492.5 2580.4L1494.0 2581.5L1502.0 2590.1L1505.0 2592.9L1508.5 2595.6L1511.0 2597.1L1513.0 2598.8L1515.0 2599.9L1516.5 2600.5L1519.0 2601.0L1522.0 2602.5L1527.5 2603.6L1529.5 2603.6L1531.0 2603.1L1534.0 2601.4L1535.5 2600.1L1536.5 2598.9L1539.0 2596.6L1542.0 2592.6L1545.0 2588.2L1546.5 2586.4L1548.5 2584.4L1552.0 2582.7L1552.5 2582.7L1556.0 2581.3L1558.0 2580.8L1561.0 2579.6L1564.0 2577.9L1566.0 2576.3L1568.0 2575.1L1569.5 2573.8L1571.0 2573.0L1573.5 2571.1L1577.5 2569.6L1579.0 2568.7L1580.0 2568.2L1581.5 2568.0L1583.0 2567.3L1585.5 2566.5L1592.0 2565.7L1598.0 2566.3L1610.0 2569.0L1612.5 2569.1L1614.0 2569.6L1618.0 2570.0L1621.0 2570.7L1623.5 2570.5L1627.0 2571.1L1628.5 2570.6L1631.0 2570.5L1632.0 2570.2L1633.0 2570.4L1634.5 2570.2L1635.5 2569.7L1639.0 2569.6L1642.0 2568.9L1643.0 2568.9L1646.0 2569.1L1647.5 2569.5L1654.0 2569.2L1656.0 2569.5L1657.0 2569.3L1659.5 2569.8L1660.0 2569.6L1662.0 2569.6L1664.5 2570.1L1668.0 2570.3L1669.5 2570.1L1671.0 2570.2L1678.0 2571.1L1679.5 2571.5L1683.5 2572.7L1689.0 2575.2L1695.0 2580.6L1699.5 2585.2L1700.5 2585.9L1706.0 2588.9L1711.5 2591.4L1712.5 2591.6L1714.0 2592.1L1719.5 2594.8L1725.5 2600.0L1729.0 2602.4L1731.0 2603.5L1733.0 2604.1L1734.0 2604.1L1735.0 2603.9L1736.5 2603.1L1738.5 2601.6L1745.0 2594.4L1749.5 2590.6L1752.5 2588.4L1754.5 2587.3L1756.5 2586.4L1759.5 2585.6L1762.0 2585.2L1764.0 2583.0L1766.0 2587.0L1768.5 2583.5L1771.0 2587.5L1773.0 2583.5L1775.5 2587.5L1778.0 2584.0L1780.5 2587.5L1783.0 2584.0L1786.0 2586.0L1789.0 2580.0L1791.0 2588.0L1793.0 2574.0L1795.0 2590.0L1797.0 2554.0L1799.0 2596.0L1800.5 2572.0L1802.0 2604.0L1803.5 2566.0L1805.0 2612.0" fill="none" stroke="#4fa6dd" stroke-width="5.0" stroke-linejoin="round" stroke-linecap="butt"/>
<path d="M1806.9 2563V2627" stroke="#4fa6dd" stroke-width="5.4" fill="none" opacity="0.88"/>
<path d="M181.0 2350.6L217.5 2350.3L220.0 2350.5L228.5 2350.4L231.0 2350.5L234.0 2350.3L235.5 2350.5L240.5 2350.1L244.0 2350.5L248.0 2350.2L251.5 2350.4L253.5 2350.1L256.5 2350.5L259.0 2350.1L263.0 2350.0L265.0 2350.2L268.0 2350.0L273.0 2350.2L274.5 2350.0L279.5 2350.2L282.5 2350.1L284.0 2349.8L286.5 2350.2L288.5 2349.9L290.5 2350.0L293.5 2349.8L294.0 2350.0L297.0 2350.1L304.0 2349.6L307.0 2349.6L309.5 2349.9L310.5 2349.7L313.0 2349.9L314.0 2349.7L316.0 2349.9L320.0 2349.8L322.0 2349.9L325.0 2349.5L328.0 2349.9L334.5 2349.6L335.5 2349.4L337.5 2349.4L342.0 2349.9L345.0 2349.6L349.5 2349.5L355.5 2349.7L359.0 2350.1L364.5 2349.8L367.0 2350.2L370.5 2350.3L372.0 2350.1L384.5 2350.7L386.0 2350.5L387.0 2350.6L388.5 2351.0L394.5 2350.9L402.0 2351.3L404.5 2351.1L405.0 2351.4L406.0 2351.4L407.0 2351.6L412.0 2351.5L419.0 2352.0L420.0 2351.8L425.0 2352.1L427.0 2351.9L429.5 2352.4L431.0 2352.3L433.5 2352.7L436.5 2352.1L440.0 2352.7L442.0 2352.5L445.0 2352.8L446.5 2352.5L448.0 2352.4L451.0 2352.8L452.5 2352.7L456.5 2352.9L459.0 2352.6L461.5 2352.8L463.5 2352.6L466.5 2352.9L467.5 2352.5L469.0 2352.4L470.5 2352.7L474.5 2353.0L476.5 2353.0L477.5 2352.8L479.5 2353.2L482.0 2352.9L486.5 2353.0L490.0 2352.7L494.5 2352.7L497.5 2353.1L500.0 2352.9L504.5 2353.0L513.0 2352.8L514.0 2353.1L517.0 2352.9L520.0 2353.3L521.5 2353.2L522.5 2352.8L525.5 2353.0L526.5 2352.8L529.0 2353.4L533.0 2352.8L537.5 2353.2L539.5 2353.2L540.0 2353.0L541.0 2353.1L542.5 2353.1L543.5 2352.8L544.5 2352.8L548.5 2353.2L553.0 2352.9L557.5 2353.2L560.0 2352.9L563.0 2352.9L565.0 2353.1L567.5 2353.0L571.5 2353.3L574.5 2352.8L577.0 2353.2L582.0 2352.9L586.0 2353.2L588.0 2352.7L590.5 2353.0L594.0 2352.8L595.0 2353.1L596.5 2353.1L600.0 2352.8L602.5 2353.0L606.0 2352.9L608.0 2353.1L612.5 2352.8L625.5 2353.1L629.0 2352.8L631.5 2353.2L637.5 2352.8L641.0 2353.1L643.5 2352.9L645.5 2353.3L648.0 2352.9L649.0 2353.1L651.5 2352.9L653.0 2353.1L655.0 2353.0L657.0 2353.2L659.5 2352.8L663.0 2353.2L664.5 2352.9L666.5 2353.1L669.0 2353.0L672.5 2353.2L675.0 2352.9L677.5 2353.2L679.0 2353.1L682.0 2352.8L685.5 2353.0L688.5 2353.1L691.5 2352.8L700.0 2353.2L702.5 2352.9L706.5 2353.2L710.0 2352.8L712.5 2353.0L714.5 2352.7L717.0 2353.1L719.0 2352.8L723.0 2353.2L725.0 2352.9L727.5 2353.2L729.5 2352.9L732.0 2353.1L735.5 2352.8L738.0 2353.0L741.5 2352.8L742.5 2353.0L746.5 2352.9L748.5 2352.8L750.0 2353.0L753.0 2352.9L757.5 2353.1L760.0 2352.8L763.0 2352.8L765.0 2353.1L768.0 2352.9L769.0 2353.1L770.5 2353.1L771.0 2352.8L779.0 2352.9L781.5 2352.7L784.0 2352.9L785.0 2352.7L787.0 2352.9L790.0 2352.6L794.0 2352.9L797.5 2352.6L804.5 2352.6L807.0 2352.8L809.5 2352.4L811.0 2352.4L813.0 2352.6L815.5 2352.5L818.0 2352.7L821.5 2352.5L823.0 2352.3L825.0 2352.5L827.5 2352.4L828.5 2352.7L835.5 2352.3L837.5 2352.7L840.5 2352.4L841.5 2352.5L844.0 2352.1L845.5 2352.4L851.0 2352.7L856.5 2352.4L859.5 2352.5L864.5 2352.2L867.0 2352.5L869.0 2352.3L871.5 2352.5L877.0 2352.1L881.5 2352.6L883.0 2352.4L887.5 2352.5L890.0 2352.2L895.5 2352.4L898.5 2352.1L902.0 2352.4L904.5 2352.2L907.0 2352.4L909.5 2352.2L913.0 2352.1L914.0 2352.4L915.5 2352.5L918.0 2352.0L920.5 2352.3L925.5 2352.1L932.5 2352.4L935.0 2352.1L936.0 2352.4L938.5 2352.3L940.0 2352.6L940.5 2352.4L945.5 2352.4L949.5 2352.1L951.5 2352.3L955.0 2352.3L956.5 2352.1L959.5 2352.5L960.0 2352.2L964.0 2352.2L964.5 2351.9L965.5 2352.1L966.5 2351.9L967.5 2352.2L969.5 2351.8L972.0 2352.3L973.5 2352.1L974.0 2352.3L975.0 2352.0L978.0 2352.3L980.0 2352.1L981.0 2351.6L982.0 2351.7L983.5 2352.4L984.5 2352.6L985.0 2352.4L986.5 2352.5L989.0 2352.1L990.0 2352.2L991.5 2351.8L993.5 2352.1L994.5 2351.9L996.5 2351.8L998.0 2351.9L999.5 2352.3L1001.5 2352.3L1002.5 2352.9L1004.0 2353.0L1005.0 2352.6L1006.0 2352.6L1007.0 2352.9L1008.0 2352.9L1008.5 2352.7L1010.0 2352.8L1011.0 2352.3L1011.5 2351.8L1012.5 2349.9L1014.0 2348.5L1014.5 2348.4L1015.0 2348.7L1015.5 2348.3L1016.5 2348.7L1017.0 2349.1L1017.5 2349.1L1019.5 2350.5L1020.5 2351.6L1021.0 2351.8L1021.5 2351.9L1022.0 2351.6L1022.5 2351.6L1023.0 2351.4L1024.5 2351.9L1025.0 2351.8L1025.5 2352.4L1028.5 2352.4L1029.0 2352.2L1030.0 2352.4L1030.5 2351.7L1031.0 2351.9L1032.5 2351.2L1034.5 2352.4L1035.0 2353.0L1035.5 2352.1L1037.0 2351.0L1037.5 2350.2L1038.0 2350.9L1038.5 2351.3L1039.5 2351.4L1040.0 2352.3L1041.0 2352.0L1042.0 2353.2L1043.5 2353.1L1044.5 2352.7L1046.5 2353.5L1047.0 2353.5L1047.5 2352.6L1048.0 2352.8L1049.5 2350.8L1050.0 2351.2L1050.5 2351.0L1052.0 2351.5L1053.0 2351.3L1053.5 2352.1L1054.5 2353.1L1055.0 2353.1L1055.5 2353.4L1056.5 2353.0L1057.0 2352.0L1058.0 2352.1L1058.5 2351.8L1059.0 2351.1L1059.5 2351.6L1060.0 2351.8L1060.5 2351.5L1061.0 2351.5L1061.5 2351.8L1062.0 2351.8L1062.5 2352.6L1063.5 2353.3L1064.0 2352.9L1064.5 2353.3L1065.0 2352.8L1065.5 2353.4L1066.0 2353.2L1066.5 2354.5L1067.0 2354.5L1067.5 2354.0L1068.5 2354.5L1069.5 2353.3L1070.0 2354.3L1070.5 2353.8L1071.5 2354.9L1072.0 2355.9L1072.5 2355.7L1074.0 2354.0L1075.0 2353.4L1075.5 2353.7L1076.0 2353.2L1077.0 2353.4L1078.5 2354.1L1079.5 2353.2L1080.0 2353.5L1080.5 2353.2L1081.5 2353.8L1082.5 2352.5L1083.5 2351.9L1086.0 2352.8L1086.5 2352.3L1087.0 2352.4L1087.5 2353.3L1088.0 2353.5L1089.0 2353.4L1089.5 2353.8L1090.0 2353.1L1090.5 2352.9L1091.5 2353.3L1092.0 2352.9L1092.5 2352.8L1093.0 2353.1L1094.0 2352.7L1095.0 2352.9L1095.5 2352.3L1097.0 2352.5L1097.5 2352.3L1098.0 2352.7L1099.0 2352.2L1099.5 2352.3L1100.0 2353.0L1100.5 2352.7L1101.5 2353.6L1102.0 2353.5L1102.5 2352.9L1103.5 2353.1L1104.0 2352.7L1104.5 2352.7L1105.0 2352.8L1106.0 2352.4L1106.5 2352.5L1107.0 2352.2L1108.0 2352.5L1109.0 2352.3L1109.5 2352.4L1111.0 2352.2L1112.0 2352.4L1112.5 2352.2L1114.5 2352.4L1115.5 2352.3L1116.0 2352.7L1116.5 2352.5L1117.5 2352.7L1119.0 2352.5L1119.5 2352.2L1121.0 2352.2L1122.0 2352.5L1122.5 2352.1L1124.0 2352.3L1124.5 2352.2L1125.0 2352.4L1125.5 2352.1L1128.0 2352.8L1128.5 2352.5L1131.0 2352.4L1133.5 2352.7L1134.5 2352.4L1136.5 2352.5L1137.5 2352.3L1139.5 2352.6L1141.0 2352.5L1142.0 2352.7L1144.5 2352.5L1146.0 2352.6L1147.0 2352.2L1149.5 2352.6L1155.0 2352.3L1159.0 2352.6L1161.5 2352.2L1163.5 2352.6L1166.0 2352.3L1171.0 2352.5L1175.5 2352.4L1176.0 2352.6L1177.5 2352.7L1178.5 2352.5L1185.5 2352.4L1192.5 2352.7L1195.0 2353.0L1199.0 2352.7L1201.5 2353.3L1203.0 2353.0L1204.5 2353.0L1208.0 2353.5L1208.5 2353.4L1216.0 2353.6L1219.0 2354.1L1220.0 2354.0L1224.0 2354.3L1226.5 2354.0L1228.0 2354.4L1230.5 2354.3L1231.5 2354.6L1233.0 2354.7L1234.5 2354.5L1236.5 2354.5L1239.5 2354.8L1246.0 2354.7L1248.0 2355.0L1250.5 2354.7L1252.0 2354.8L1255.0 2354.6L1257.5 2354.9L1260.5 2354.6L1263.0 2354.7L1263.5 2354.6L1266.0 2354.9L1268.0 2354.8L1271.0 2355.0L1275.0 2354.9L1276.5 2354.6L1281.0 2354.9L1283.0 2354.7L1286.5 2355.1L1289.5 2354.7L1292.5 2354.7L1294.5 2355.0L1296.5 2354.6L1299.0 2354.9L1302.5 2354.8L1303.5 2355.1L1305.0 2355.1L1306.0 2354.7L1308.0 2354.6L1311.0 2354.9L1312.0 2354.7L1315.5 2354.7L1318.0 2355.1L1321.5 2354.8L1324.5 2355.0L1327.5 2354.6L1329.0 2354.8L1332.0 2355.0L1337.0 2354.7L1340.5 2355.0L1341.5 2354.8L1345.0 2354.9L1351.0 2354.7L1357.0 2354.8L1359.0 2354.6L1362.0 2354.7L1363.5 2354.9L1368.0 2354.5L1376.0 2354.5L1378.5 2354.2L1379.5 2354.5L1381.0 2354.5L1385.5 2354.1L1390.0 2354.1L1392.5 2354.2L1395.0 2354.0L1397.5 2354.2L1398.5 2353.9L1403.0 2354.3L1405.5 2354.1L1407.5 2354.6L1409.5 2354.4L1411.5 2354.8L1414.0 2354.7L1417.0 2355.2L1419.5 2355.2L1423.0 2355.6L1425.5 2355.7L1426.5 2356.0L1429.0 2355.9L1432.0 2356.5L1436.5 2356.5L1438.5 2356.8L1441.0 2357.0L1443.0 2357.6L1445.5 2357.4L1446.5 2357.5L1450.0 2358.2L1451.5 2358.1L1453.5 2358.7L1455.5 2359.0L1460.5 2360.2L1466.5 2362.9L1471.0 2365.6L1472.5 2366.4L1474.0 2366.8L1476.5 2368.3L1478.0 2368.9L1482.0 2370.7L1487.5 2373.7L1492.0 2376.9L1496.0 2380.2L1498.0 2382.2L1501.0 2384.6L1505.0 2387.4L1507.5 2388.4L1510.0 2389.9L1511.5 2390.7L1516.5 2391.7L1518.5 2392.3L1525.5 2393.4L1530.0 2393.2L1534.0 2391.9L1537.5 2390.0L1542.0 2385.6L1545.5 2380.6L1549.5 2375.9L1551.5 2374.2L1553.5 2373.0L1557.5 2371.2L1559.0 2370.8L1560.5 2370.0L1561.0 2370.0L1563.5 2369.1L1564.5 2368.9L1566.5 2368.1L1568.0 2367.8L1569.5 2368.0L1572.5 2367.5L1575.0 2367.7L1577.5 2367.4L1580.0 2367.7L1582.0 2367.4L1589.0 2367.4L1591.5 2367.1L1594.0 2367.6L1596.5 2367.1L1598.0 2367.1L1602.5 2367.6L1605.0 2367.6L1608.0 2368.4L1612.0 2368.8L1614.0 2369.3L1616.5 2369.4L1622.0 2370.1L1625.0 2370.1L1627.5 2369.9L1630.0 2369.1L1634.0 2368.4L1636.0 2368.3L1637.5 2367.8L1640.0 2367.7L1642.0 2367.3L1644.5 2367.4L1647.0 2367.1L1649.5 2367.4L1652.5 2367.0L1654.0 2367.3L1658.0 2367.5L1660.5 2367.1L1662.5 2367.3L1665.0 2367.2L1666.5 2367.5L1669.0 2367.1L1673.5 2367.2L1675.5 2367.5L1677.5 2367.4L1678.5 2367.7L1681.0 2367.8L1685.5 2368.6L1688.0 2369.2L1690.0 2369.4L1692.0 2369.8L1697.5 2371.6L1700.5 2373.1L1707.5 2377.8L1710.0 2380.3L1712.5 2381.8L1715.0 2383.8L1716.5 2384.6L1726.0 2392.2L1730.5 2394.7L1732.0 2395.2L1733.5 2395.4L1735.0 2395.2L1739.0 2393.0L1744.5 2388.3L1751.0 2383.0L1755.0 2380.2L1757.0 2379.2L1758.5 2378.7L1763.0 2378.0L1765.0 2380.5L1767.5 2378.0L1770.0 2382.0L1772.5 2379.0L1775.0 2382.5L1778.0 2378.0L1781.0 2379.0L1784.0 2374.0L1786.5 2378.0L1789.0 2368.0L1791.0 2380.0L1793.0 2362.0L1795.0 2384.0L1796.5 2349.0L1798.5 2388.0L1800.0 2356.0L1802.0 2396.0L1803.5 2344.0L1805.0 2404.0" fill="none" stroke="#007f1e" stroke-width="5.0" stroke-linejoin="round" stroke-linecap="butt"/>
<path d="M1806.9 2325V2414" stroke="#007f1e" stroke-width="5.4" fill="none" opacity="0.88"/>
<path d="M181.0 2161.3L226.5 2160.5L229.5 2160.6L233.0 2160.3L237.0 2160.3L239.5 2160.0L241.5 2160.2L252.5 2159.7L255.0 2159.9L257.0 2159.6L260.5 2159.5L263.0 2159.2L265.5 2159.3L268.5 2159.2L270.5 2158.9L273.0 2159.1L278.5 2158.6L280.0 2158.7L282.5 2158.4L283.0 2158.5L284.5 2158.4L285.5 2158.2L292.5 2158.1L295.0 2157.8L297.0 2157.9L301.0 2157.5L303.5 2157.6L306.0 2157.2L309.0 2157.2L312.0 2156.9L317.0 2157.2L319.5 2157.0L322.0 2157.1L323.0 2156.9L325.5 2157.3L327.0 2157.4L329.0 2157.9L333.5 2158.3L334.5 2158.7L337.5 2159.2L341.5 2160.2L343.0 2160.3L345.0 2160.9L349.5 2161.8L352.0 2162.7L355.5 2163.5L359.0 2164.7L363.0 2166.3L367.5 2167.6L368.5 2168.3L371.0 2168.9L373.0 2169.9L374.5 2170.1L380.0 2172.3L385.0 2174.0L388.5 2175.8L391.0 2176.6L395.0 2178.5L398.5 2180.4L401.0 2181.4L406.0 2184.1L411.0 2185.6L414.5 2185.8L415.0 2186.0L417.0 2186.2L417.5 2186.1L419.5 2186.5L423.5 2186.9L426.0 2186.9L429.5 2187.3L442.0 2187.4L444.5 2187.7L448.0 2187.6L448.5 2187.8L449.5 2187.7L452.0 2187.9L453.0 2187.8L456.5 2188.1L459.0 2187.8L462.5 2188.5L465.0 2188.1L468.0 2188.6L469.0 2188.4L473.0 2188.4L475.5 2188.6L477.0 2188.9L479.5 2188.9L481.5 2189.2L484.0 2189.0L489.0 2189.3L492.0 2189.1L494.5 2189.5L496.5 2189.1L499.5 2189.6L502.0 2189.5L503.5 2189.7L505.0 2189.4L508.0 2189.9L510.5 2189.6L515.0 2189.6L522.0 2189.9L522.5 2189.7L524.0 2189.7L526.5 2189.9L528.5 2189.6L532.0 2190.0L534.5 2189.5L537.0 2189.9L539.5 2189.5L540.5 2189.6L541.5 2189.4L543.0 2189.3L545.0 2189.6L547.5 2189.3L550.0 2189.5L551.0 2189.3L555.5 2189.2L559.5 2188.7L562.0 2188.8L564.5 2188.4L571.5 2188.2L574.5 2187.8L577.5 2188.0L588.0 2187.1L589.5 2187.3L595.0 2186.6L597.0 2186.6L601.5 2186.3L603.0 2186.4L605.5 2186.1L606.5 2186.3L609.0 2185.8L610.0 2186.0L610.5 2185.8L613.0 2185.9L615.5 2185.6L618.0 2185.6L623.0 2184.9L627.0 2185.0L629.5 2184.7L631.5 2184.9L634.0 2184.4L639.5 2184.2L643.0 2183.7L645.5 2183.9L649.5 2183.2L652.0 2183.2L652.5 2183.4L654.5 2183.2L657.0 2182.9L658.5 2182.5L661.0 2182.6L664.5 2182.2L666.0 2182.3L672.5 2181.4L678.0 2181.0L680.5 2180.5L684.5 2180.3L687.0 2179.8L691.5 2179.5L694.0 2179.1L699.0 2178.8L704.5 2177.9L705.5 2177.4L707.0 2177.1L708.0 2177.2L712.5 2176.5L713.5 2176.6L715.0 2176.4L716.5 2175.9L719.5 2175.9L722.0 2175.2L728.0 2174.2L729.0 2174.3L735.0 2173.0L737.0 2172.6L738.5 2172.6L740.0 2172.2L742.5 2171.9L743.0 2171.6L745.0 2171.4L746.5 2171.0L750.0 2170.5L756.5 2169.9L758.5 2170.0L759.5 2169.8L760.5 2169.4L761.5 2169.4L762.0 2169.2L763.0 2169.4L764.5 2169.3L765.5 2168.9L767.0 2168.7L768.5 2168.7L770.0 2168.4L772.5 2168.4L775.5 2167.9L776.5 2168.0L779.0 2167.4L783.0 2167.3L786.0 2166.9L789.0 2166.9L792.5 2166.4L797.5 2166.4L801.0 2165.9L802.0 2166.0L808.0 2165.5L810.5 2165.7L812.0 2165.3L815.0 2165.6L817.0 2165.3L825.0 2165.2L826.0 2165.0L834.0 2165.0L836.0 2164.7L838.0 2164.8L839.0 2164.6L841.5 2164.9L843.5 2164.5L846.0 2164.8L849.5 2164.5L850.5 2164.6L853.5 2164.4L854.5 2164.6L855.5 2164.4L858.0 2164.5L859.5 2164.2L866.5 2164.6L869.5 2164.1L877.0 2164.5L880.5 2164.3L881.5 2164.4L885.5 2164.2L888.5 2164.2L889.5 2164.0L893.0 2164.3L899.5 2164.0L903.0 2164.3L903.5 2164.1L907.0 2164.2L908.5 2164.0L911.0 2164.2L913.0 2164.2L913.5 2164.0L916.0 2164.1L921.0 2163.9L924.5 2164.2L928.5 2163.9L932.0 2164.3L937.5 2163.9L939.0 2164.2L941.0 2164.2L943.5 2163.9L946.5 2164.1L949.0 2163.8L951.0 2164.3L952.0 2164.3L953.5 2163.9L957.5 2164.1L960.5 2163.9L962.0 2164.3L964.5 2164.0L966.0 2164.2L968.5 2163.9L970.0 2164.2L971.0 2163.9L971.5 2164.1L972.5 2164.0L973.5 2164.3L974.0 2164.1L975.5 2164.0L978.0 2163.5L980.0 2164.0L980.5 2164.0L981.5 2163.7L982.5 2163.0L983.0 2163.0L984.0 2162.9L984.5 2163.2L987.5 2163.5L989.0 2163.1L989.5 2163.2L990.0 2162.9L990.5 2163.0L992.0 2162.5L992.5 2162.7L993.0 2162.3L993.5 2162.2L994.5 2161.6L996.5 2162.1L998.0 2161.8L998.5 2161.4L999.0 2161.4L999.5 2161.5L1000.0 2161.3L1001.0 2161.4L1002.0 2161.3L1003.0 2161.6L1003.5 2161.2L1004.5 2161.3L1005.0 2160.7L1005.5 2160.4L1006.5 2160.3L1008.5 2159.2L1010.5 2156.8L1012.0 2154.5L1013.0 2153.9L1014.0 2154.6L1015.0 2155.0L1015.5 2155.8L1016.0 2156.0L1017.0 2157.3L1017.5 2158.2L1018.0 2158.6L1018.5 2158.8L1019.0 2158.7L1019.5 2158.9L1020.0 2158.7L1021.5 2159.9L1022.5 2160.1L1023.0 2159.9L1025.0 2161.9L1025.5 2161.7L1026.0 2160.9L1027.0 2160.6L1027.5 2161.1L1028.0 2161.3L1028.5 2162.2L1029.0 2162.7L1030.0 2163.2L1030.5 2163.1L1031.5 2161.8L1032.0 2161.9L1032.5 2161.3L1033.5 2161.5L1034.0 2161.2L1034.5 2161.2L1035.0 2160.3L1035.5 2160.5L1036.5 2162.1L1037.0 2161.8L1037.5 2162.5L1038.0 2162.5L1039.5 2160.9L1040.0 2161.3L1041.0 2161.6L1041.5 2162.4L1042.0 2162.5L1042.5 2162.1L1043.5 2161.9L1044.0 2161.4L1045.0 2162.8L1045.5 2163.2L1046.0 2163.0L1046.5 2163.3L1047.5 2163.1L1048.0 2162.7L1048.5 2163.2L1049.0 2162.4L1049.5 2162.8L1050.5 2163.1L1051.0 2162.5L1051.5 2163.4L1052.0 2163.5L1052.5 2163.1L1053.0 2163.2L1053.5 2163.6L1054.5 2162.3L1056.0 2162.3L1056.5 2163.3L1057.5 2163.2L1059.0 2163.6L1060.0 2164.7L1061.0 2164.4L1061.5 2163.0L1062.5 2161.8L1063.0 2161.7L1063.5 2161.3L1064.0 2161.7L1064.5 2161.4L1065.5 2159.8L1066.0 2159.8L1066.5 2159.2L1067.0 2159.3L1067.5 2158.4L1068.0 2158.4L1068.5 2157.6L1069.0 2157.4L1069.5 2156.6L1070.0 2157.1L1071.5 2156.3L1072.5 2157.1L1073.5 2157.2L1074.0 2157.9L1074.5 2157.6L1075.5 2157.8L1076.0 2157.5L1076.5 2157.6L1077.0 2158.0L1077.5 2157.2L1078.5 2158.0L1079.0 2158.1L1079.5 2157.9L1080.5 2158.7L1081.0 2158.3L1082.5 2158.9L1083.0 2157.9L1083.5 2158.2L1084.0 2157.3L1085.0 2157.2L1085.5 2157.5L1086.0 2157.5L1087.0 2158.3L1088.5 2158.9L1089.0 2158.8L1089.5 2157.8L1091.0 2157.1L1092.5 2158.2L1094.0 2156.8L1095.0 2156.6L1095.5 2157.1L1096.5 2157.5L1097.0 2157.5L1097.5 2157.0L1098.5 2156.8L1099.0 2156.2L1100.0 2156.8L1100.5 2156.6L1101.5 2157.5L1102.5 2157.3L1103.5 2157.6L1104.5 2157.1L1105.5 2158.1L1106.0 2157.9L1109.5 2160.5L1110.5 2160.1L1111.0 2160.7L1111.5 2161.0L1112.0 2161.0L1112.5 2161.5L1113.0 2161.6L1114.0 2161.0L1115.5 2161.0L1116.0 2161.1L1117.0 2161.8L1118.5 2162.1L1119.5 2161.7L1122.5 2161.7L1125.0 2161.3L1126.0 2161.6L1127.5 2161.3L1129.5 2161.7L1130.0 2162.1L1131.0 2162.0L1132.5 2162.3L1134.0 2162.0L1135.0 2161.3L1136.5 2161.3L1137.5 2161.6L1139.5 2161.2L1140.0 2161.2L1142.0 2162.0L1144.0 2162.1L1145.0 2161.8L1146.5 2161.7L1147.5 2161.9L1148.5 2161.5L1149.5 2161.4L1150.5 2161.7L1153.0 2161.5L1155.5 2162.1L1158.0 2161.9L1158.5 2162.1L1160.0 2162.1L1162.5 2161.8L1164.5 2162.0L1167.0 2161.8L1169.5 2162.3L1172.0 2161.7L1174.0 2161.7L1174.5 2161.9L1178.0 2162.2L1184.5 2162.0L1189.0 2162.4L1191.5 2162.1L1193.5 2162.4L1196.0 2162.0L1197.5 2162.3L1200.0 2162.2L1201.5 2162.5L1204.0 2162.5L1206.0 2162.8L1208.0 2162.4L1209.5 2162.5L1213.0 2162.9L1217.5 2164.2L1218.5 2164.7L1221.0 2165.4L1223.5 2166.4L1226.0 2167.9L1228.5 2169.1L1232.0 2171.6L1237.5 2174.9L1240.0 2175.9L1243.0 2177.5L1245.0 2178.0L1249.0 2177.6L1252.5 2176.8L1257.5 2175.1L1259.5 2175.0L1261.0 2174.6L1265.5 2172.9L1270.0 2171.9L1273.0 2170.9L1275.0 2170.6L1279.0 2169.5L1284.5 2168.9L1287.5 2168.4L1290.0 2168.4L1292.0 2168.0L1294.0 2168.1L1298.5 2167.4L1304.5 2167.3L1306.5 2167.0L1308.5 2166.9L1311.0 2167.2L1317.0 2166.8L1318.0 2167.0L1328.5 2166.8L1329.5 2167.0L1332.5 2166.9L1336.5 2167.0L1337.5 2166.8L1339.5 2166.9L1341.0 2166.6L1344.5 2167.1L1349.0 2166.8L1353.5 2167.1L1356.0 2166.9L1358.0 2167.1L1359.5 2166.8L1364.5 2166.5L1367.0 2165.7L1370.5 2165.0L1373.5 2164.7L1376.5 2164.1L1380.0 2163.8L1381.5 2163.5L1383.5 2163.6L1386.0 2163.2L1391.5 2163.8L1393.5 2163.7L1395.0 2163.9L1401.0 2163.9L1403.0 2164.4L1408.5 2164.9L1414.0 2166.9L1416.0 2167.5L1417.0 2167.6L1420.0 2167.4L1424.0 2166.6L1427.0 2165.7L1429.0 2165.6L1431.5 2165.6L1434.0 2166.0L1437.5 2165.9L1442.0 2166.6L1446.0 2166.9L1448.5 2167.7L1449.5 2167.8L1452.0 2168.9L1454.0 2169.5L1459.5 2172.8L1461.5 2174.7L1463.5 2177.1L1468.5 2184.2L1478.5 2195.8L1481.0 2198.3L1486.5 2204.7L1493.0 2213.3L1495.0 2215.6L1498.0 2219.7L1500.5 2222.6L1510.0 2235.5L1515.0 2241.4L1524.0 2250.3L1526.5 2251.8L1527.0 2252.3L1529.0 2253.7L1532.5 2255.9L1535.5 2257.4L1537.5 2258.2L1540.5 2258.8L1541.0 2258.6L1545.0 2255.9L1547.5 2253.5L1549.0 2252.4L1550.0 2252.1L1554.5 2251.0L1557.0 2250.9L1560.0 2250.4L1562.0 2249.8L1563.5 2249.6L1566.5 2248.3L1571.0 2244.7L1574.0 2241.9L1577.5 2238.2L1586.0 2227.5L1588.5 2225.0L1590.5 2222.5L1592.0 2221.1L1594.5 2218.2L1596.5 2216.6L1602.0 2213.0L1606.5 2211.3L1607.5 2210.7L1609.0 2210.5L1610.0 2210.6L1614.0 2210.3L1615.5 2210.5L1620.0 2210.1L1621.5 2210.3L1627.0 2209.8L1628.5 2209.9L1633.5 2208.3L1635.0 2207.4L1636.5 2207.0L1638.5 2206.7L1640.5 2206.9L1642.0 2207.5L1644.5 2208.1L1648.0 2209.5L1652.0 2210.6L1654.5 2211.7L1657.5 2212.5L1661.5 2214.0L1663.0 2214.2L1665.0 2214.3L1668.0 2214.0L1670.0 2213.6L1671.5 2213.4L1674.0 2212.7L1674.5 2212.9L1676.0 2212.6L1678.5 2211.7L1680.5 2211.6L1682.5 2211.1L1685.5 2211.3L1687.0 2212.2L1691.0 2215.7L1694.0 2219.7L1699.5 2228.4L1701.0 2230.3L1702.0 2231.3L1704.0 2232.8L1707.5 2234.7L1710.0 2235.5L1713.5 2237.0L1723.5 2243.0L1730.0 2247.7L1737.5 2256.2L1740.0 2258.4L1742.0 2259.5L1743.0 2259.6L1744.0 2259.4L1745.0 2258.9L1746.5 2257.6L1748.5 2255.2L1753.5 2248.3L1762.0 2239.5L1764.5 2234.0L1767.0 2240.0L1769.5 2233.0L1772.0 2241.0L1774.5 2231.0L1777.0 2235.0L1780.0 2227.0L1783.0 2230.0L1786.0 2222.0L1788.0 2228.0L1789.8 2210.0L1791.5 2232.0L1793.5 2252.0L1795.5 2200.0L1797.5 2178.0L1799.5 2212.0L1801.0 2168.0L1802.8 2204.0L1804.5 2158.0" fill="none" stroke="#7ed321" stroke-width="5.0" stroke-linejoin="round" stroke-linecap="butt"/>
<path d="M1806.9 2150V2227" stroke="#7ed321" stroke-width="5.4" fill="none" opacity="0.88"/>
<path d="M181.0 1954.6L216.5 1954.5L221.0 1954.2L226.0 1954.3L229.0 1954.2L236.0 1954.5L242.0 1954.1L244.5 1954.3L246.5 1954.3L247.0 1954.1L249.5 1954.3L251.5 1954.0L253.0 1954.1L255.5 1953.9L264.5 1954.0L271.5 1953.7L276.0 1954.0L278.5 1953.6L280.5 1954.0L282.5 1953.5L284.5 1953.7L287.0 1953.5L288.5 1953.4L290.0 1953.6L296.0 1953.3L297.5 1953.6L305.5 1953.2L308.0 1953.6L313.5 1953.0L319.0 1953.4L321.5 1953.1L324.0 1953.3L327.0 1953.1L330.0 1953.3L331.0 1953.2L333.0 1953.4L335.0 1953.3L338.5 1953.8L341.0 1953.5L343.0 1953.7L343.5 1953.9L345.0 1954.2L347.5 1954.1L351.5 1955.3L354.0 1955.6L355.5 1956.2L357.5 1956.6L361.5 1958.0L363.0 1958.5L364.0 1958.5L367.5 1959.7L370.0 1959.9L380.0 1962.1L381.0 1962.1L381.5 1962.3L385.5 1963.1L388.0 1963.7L389.0 1963.6L390.5 1963.8L391.5 1964.2L393.5 1964.3L395.5 1964.8L397.0 1964.8L408.0 1966.9L410.5 1967.0L412.5 1967.5L415.0 1967.7L418.5 1968.6L420.5 1968.5L421.5 1968.8L424.0 1969.0L426.5 1969.6L431.0 1969.9L434.0 1970.7L437.5 1971.0L439.5 1971.6L442.0 1971.8L443.0 1972.1L446.5 1972.2L450.0 1973.3L451.5 1973.5L454.0 1973.4L457.0 1974.2L464.0 1974.8L469.5 1975.5L472.0 1975.4L475.5 1976.0L478.0 1975.9L480.5 1976.1L482.0 1976.5L486.5 1976.5L490.5 1977.1L493.0 1976.9L494.0 1977.2L497.0 1977.5L499.0 1977.6L502.0 1977.5L505.5 1978.0L508.0 1977.8L509.0 1978.1L513.0 1978.3L515.5 1978.1L520.0 1978.4L527.0 1978.2L531.0 1978.5L535.0 1978.4L538.0 1978.6L540.5 1978.2L553.0 1978.3L554.0 1978.0L556.5 1978.2L561.0 1978.0L563.5 1978.1L565.5 1977.8L567.5 1978.0L569.0 1977.9L571.5 1978.1L574.0 1977.7L577.0 1977.9L580.0 1977.7L580.5 1977.9L583.0 1977.4L585.5 1977.7L586.5 1977.5L589.5 1977.5L593.0 1977.1L596.0 1977.2L599.0 1977.0L602.5 1976.9L608.5 1976.3L609.0 1976.5L611.0 1976.4L614.0 1976.0L616.5 1976.2L617.0 1976.0L621.0 1975.3L625.0 1975.4L627.0 1975.1L632.5 1974.9L633.5 1974.6L638.5 1974.6L639.5 1974.3L645.0 1974.1L647.5 1973.7L650.0 1973.8L651.5 1973.3L654.0 1973.5L656.5 1973.0L659.5 1972.9L660.5 1972.6L662.0 1972.5L663.0 1972.6L664.5 1972.5L666.5 1972.0L671.5 1971.9L673.5 1971.6L677.0 1971.3L677.5 1971.5L679.0 1971.3L681.0 1970.7L682.0 1970.8L684.5 1970.4L687.0 1970.6L692.0 1969.7L694.5 1969.7L706.0 1968.7L707.0 1968.8L708.5 1968.7L709.5 1968.5L712.0 1968.3L713.5 1967.9L719.0 1967.6L722.0 1967.0L725.0 1967.3L731.5 1966.0L733.5 1965.8L735.5 1965.9L741.0 1965.1L743.5 1965.1L745.0 1964.7L751.0 1964.2L753.0 1964.3L754.5 1964.0L758.5 1963.7L766.5 1963.5L768.0 1963.2L770.5 1963.3L773.0 1963.0L775.5 1963.0L777.5 1962.7L781.0 1962.7L785.0 1962.2L787.5 1962.3L792.0 1962.0L795.0 1962.2L797.5 1961.8L805.0 1961.6L806.0 1961.4L807.0 1961.7L808.5 1961.5L809.5 1961.2L812.5 1961.2L815.0 1961.0L817.0 1961.2L821.0 1961.1L823.5 1960.8L828.0 1960.9L829.5 1960.7L832.0 1961.0L834.5 1960.7L837.0 1960.7L839.5 1960.4L841.0 1960.6L844.5 1960.5L847.0 1960.8L849.5 1960.3L852.0 1960.5L854.0 1960.4L855.0 1960.7L856.5 1960.7L860.0 1960.4L865.0 1960.6L867.0 1960.1L871.0 1960.6L873.5 1960.3L875.5 1960.4L877.0 1960.2L880.0 1960.6L882.5 1960.2L885.0 1960.5L886.0 1960.2L887.5 1960.0L889.0 1960.3L893.0 1960.2L894.0 1960.5L896.5 1960.1L898.5 1960.4L903.0 1960.0L907.0 1960.3L910.0 1959.9L912.5 1960.2L915.5 1960.0L917.0 1960.2L919.5 1960.0L920.5 1960.2L924.5 1959.7L927.5 1960.0L932.5 1959.8L933.5 1959.9L939.0 1959.8L939.5 1959.9L942.5 1959.6L943.5 1959.8L945.0 1959.8L947.0 1959.5L949.5 1959.8L951.0 1959.4L954.0 1959.4L956.5 1959.1L958.0 1959.4L959.5 1959.4L963.5 1958.8L965.0 1958.8L967.0 1958.9L968.0 1958.8L970.5 1959.3L972.0 1958.9L975.0 1958.6L977.5 1959.0L978.5 1958.8L979.5 1958.9L980.0 1958.6L981.0 1958.7L981.5 1958.2L983.0 1958.1L983.5 1957.8L984.0 1958.3L985.5 1958.4L986.0 1958.7L987.0 1958.4L988.0 1958.5L988.5 1958.0L989.5 1958.5L990.5 1958.4L991.0 1958.7L991.5 1958.6L992.0 1958.1L993.0 1957.8L994.0 1957.7L995.0 1958.1L996.0 1958.3L997.0 1958.1L998.0 1957.6L999.0 1957.8L1001.5 1957.5L1002.0 1957.1L1003.0 1956.9L1004.0 1956.4L1004.5 1956.6L1005.0 1956.3L1005.5 1956.5L1006.0 1956.4L1006.5 1956.6L1007.0 1956.3L1008.0 1956.3L1009.5 1955.2L1010.5 1954.2L1011.5 1954.5L1014.0 1953.6L1015.0 1954.9L1016.0 1955.7L1016.5 1955.9L1017.0 1956.0L1017.5 1956.3L1018.5 1956.3L1019.5 1957.1L1020.0 1956.7L1020.5 1957.0L1021.0 1957.0L1021.5 1957.3L1022.0 1956.9L1022.5 1957.2L1024.0 1957.3L1024.5 1957.8L1025.0 1957.8L1025.5 1957.6L1026.0 1957.7L1026.5 1957.3L1027.0 1957.2L1027.5 1957.5L1028.0 1958.0L1028.5 1957.7L1029.5 1957.9L1030.5 1957.8L1031.5 1958.7L1032.0 1958.5L1033.0 1958.5L1033.5 1958.0L1034.0 1958.6L1035.5 1958.1L1036.0 1958.8L1036.5 1958.0L1037.0 1957.7L1038.0 1957.8L1038.5 1956.4L1039.0 1956.0L1039.5 1957.0L1040.5 1956.7L1041.0 1957.7L1041.5 1957.8L1042.0 1956.9L1042.5 1957.5L1043.5 1957.1L1044.0 1957.8L1045.0 1957.7L1045.5 1958.0L1046.0 1958.0L1046.5 1957.5L1047.0 1957.8L1047.5 1957.7L1048.0 1957.8L1048.5 1958.6L1049.0 1958.0L1049.5 1958.4L1050.0 1957.7L1051.0 1956.9L1051.5 1957.9L1052.0 1957.2L1053.0 1957.9L1053.5 1958.1L1054.0 1957.7L1054.5 1958.1L1056.0 1957.4L1056.5 1957.9L1057.0 1958.9L1058.5 1957.5L1059.5 1955.9L1060.5 1956.7L1061.0 1957.5L1061.5 1957.8L1062.5 1957.4L1063.0 1957.7L1063.5 1957.7L1064.5 1956.8L1065.0 1957.1L1066.0 1956.1L1066.5 1956.0L1067.0 1956.5L1067.5 1956.2L1068.5 1956.1L1069.0 1955.8L1070.5 1957.6L1071.5 1958.0L1073.5 1954.7L1075.0 1955.6L1075.5 1955.4L1076.0 1955.5L1076.5 1954.7L1077.0 1955.3L1077.5 1954.9L1078.0 1954.9L1079.0 1956.1L1079.5 1955.7L1080.0 1955.6L1080.5 1956.4L1081.0 1956.1L1081.5 1956.4L1082.0 1956.1L1082.5 1956.8L1083.0 1956.5L1083.5 1957.0L1084.0 1956.4L1086.0 1957.6L1086.5 1958.3L1087.0 1958.4L1087.5 1957.9L1088.5 1957.6L1089.0 1957.5L1089.5 1958.1L1090.0 1958.1L1090.5 1957.5L1091.5 1957.4L1092.0 1956.5L1093.0 1957.1L1093.5 1956.8L1094.5 1957.3L1095.5 1957.2L1096.0 1957.8L1097.5 1958.0L1098.5 1957.8L1099.0 1957.5L1099.5 1957.6L1100.0 1956.8L1100.5 1957.3L1101.0 1957.3L1101.5 1957.7L1102.0 1957.7L1102.5 1958.1L1104.0 1957.3L1106.0 1957.2L1107.0 1957.4L1107.5 1957.0L1108.0 1957.1L1108.5 1957.4L1109.0 1957.5L1109.5 1957.1L1110.5 1957.8L1111.5 1957.4L1112.0 1957.7L1113.0 1957.2L1113.5 1957.5L1114.5 1957.0L1115.0 1957.2L1116.0 1956.8L1117.0 1957.1L1117.5 1956.9L1119.0 1957.3L1121.0 1956.9L1121.5 1956.4L1122.5 1957.0L1123.5 1956.8L1124.0 1957.3L1125.5 1956.8L1126.5 1956.8L1128.5 1957.2L1129.5 1957.3L1130.0 1957.1L1131.5 1957.3L1132.5 1956.7L1133.0 1956.7L1134.0 1956.7L1135.0 1957.2L1135.5 1957.3L1137.5 1957.0L1140.0 1957.2L1141.0 1956.7L1142.0 1956.6L1143.0 1956.9L1144.5 1957.0L1147.0 1956.9L1148.5 1957.4L1151.0 1956.9L1152.0 1957.2L1153.0 1957.0L1154.0 1957.2L1156.5 1957.2L1158.0 1957.4L1161.5 1957.2L1165.5 1957.3L1166.0 1957.1L1168.0 1957.0L1168.5 1957.3L1169.5 1957.3L1172.0 1957.0L1174.0 1957.2L1174.5 1957.4L1177.0 1957.1L1179.0 1957.3L1181.5 1957.2L1182.5 1957.4L1186.5 1957.3L1188.5 1957.5L1190.0 1957.3L1192.0 1957.6L1204.0 1957.6L1205.0 1957.8L1205.5 1957.7L1209.5 1957.9L1211.5 1958.2L1214.5 1959.0L1215.0 1959.0L1218.0 1960.1L1218.5 1960.0L1219.5 1960.4L1221.0 1961.4L1224.0 1962.7L1226.5 1964.2L1228.5 1964.9L1229.0 1964.9L1231.0 1965.5L1235.0 1967.4L1237.5 1968.1L1238.0 1968.4L1239.5 1968.7L1240.5 1968.6L1243.0 1969.2L1247.0 1968.9L1249.5 1968.9L1251.5 1968.4L1253.5 1968.2L1255.5 1967.7L1257.0 1967.8L1259.0 1967.6L1261.0 1967.0L1263.5 1967.4L1265.5 1966.8L1266.5 1966.6L1270.0 1966.9L1273.0 1966.2L1276.0 1966.2L1278.5 1965.5L1281.0 1965.6L1283.5 1965.1L1288.5 1965.1L1293.0 1964.4L1295.5 1964.5L1296.5 1964.3L1297.0 1964.5L1298.5 1964.3L1302.0 1964.2L1304.0 1964.4L1307.5 1964.1L1310.0 1963.6L1312.5 1963.8L1315.0 1963.6L1317.0 1963.8L1319.0 1963.5L1328.5 1963.5L1330.0 1963.2L1332.5 1963.4L1338.0 1963.1L1341.0 1962.7L1343.5 1962.8L1348.0 1962.7L1349.5 1962.5L1352.0 1962.5L1354.0 1962.3L1359.5 1962.1L1360.5 1961.8L1363.0 1962.1L1366.0 1961.6L1369.5 1961.4L1371.5 1961.5L1372.5 1961.2L1375.5 1961.5L1378.0 1961.1L1380.5 1961.5L1383.0 1961.2L1389.0 1961.2L1390.0 1961.0L1392.0 1961.3L1396.0 1961.2L1397.0 1961.4L1399.0 1961.2L1400.5 1961.5L1403.0 1961.2L1405.5 1961.4L1409.0 1961.2L1411.5 1961.4L1413.0 1961.3L1415.5 1961.6L1418.0 1961.4L1420.5 1961.8L1423.0 1961.5L1426.5 1961.7L1429.0 1961.5L1431.5 1961.9L1435.5 1962.0L1436.5 1962.4L1442.0 1963.0L1444.5 1964.0L1447.0 1964.5L1448.0 1964.9L1449.0 1965.0L1450.0 1965.4L1451.0 1966.1L1453.5 1967.2L1454.5 1968.2L1458.5 1971.1L1460.0 1972.6L1463.0 1976.9L1469.0 1988.2L1474.0 1998.6L1480.0 2012.8L1487.5 2031.8L1495.0 2053.0L1499.5 2066.6L1505.5 2085.5L1513.0 2110.1L1517.5 2123.0L1520.5 2130.8L1524.0 2138.6L1528.0 2146.5L1533.0 2152.9L1534.5 2154.4L1536.0 2155.5L1537.5 2156.0L1538.0 2156.0L1539.0 2155.6L1540.5 2154.3L1542.5 2150.9L1543.5 2148.2L1545.0 2143.1L1548.0 2128.5L1549.5 2124.8L1551.0 2122.1L1553.0 2119.5L1555.0 2117.3L1560.0 2113.5L1562.0 2111.6L1563.5 2109.9L1565.0 2107.2L1567.0 2102.2L1570.0 2093.4L1575.5 2071.3L1579.0 2058.1L1581.0 2051.8L1582.5 2048.4L1585.0 2043.8L1588.0 2039.4L1591.5 2035.4L1596.0 2031.4L1599.0 2029.5L1600.5 2029.0L1604.5 2028.0L1608.0 2027.7L1609.5 2027.5L1611.0 2026.9L1614.5 2026.4L1617.5 2026.7L1620.0 2026.2L1622.5 2026.3L1628.5 2025.5L1634.0 2025.5L1636.5 2025.3L1639.5 2025.5L1641.0 2025.3L1650.0 2025.6L1650.5 2025.4L1651.5 2025.7L1654.5 2025.7L1658.5 2026.1L1659.0 2026.0L1660.5 2026.1L1662.5 2026.5L1664.5 2026.4L1667.0 2026.9L1671.0 2027.2L1673.0 2027.6L1675.5 2028.5L1679.5 2030.3L1684.0 2033.9L1685.0 2035.0L1686.5 2037.3L1688.5 2041.7L1691.5 2049.5L1692.5 2052.7L1701.5 2086.7L1703.5 2092.9L1704.5 2095.2L1707.5 2100.4L1711.0 2105.0L1720.5 2119.7L1726.5 2129.6L1731.5 2138.9L1734.0 2143.1L1736.5 2146.4L1738.5 2147.8L1739.5 2148.0L1740.0 2147.9L1740.5 2147.4L1742.0 2144.1L1746.5 2128.8L1751.0 2107.6L1752.5 2101.6L1754.0 2097.7L1755.5 2095.7L1757.0 2094.6L1759.5 2097.0L1762.0 2092.0L1764.5 2097.0L1767.0 2091.0L1769.5 2096.0L1772.0 2090.5L1775.0 2095.0L1778.0 2089.0L1781.0 2091.0L1784.0 2084.0L1786.5 2090.0L1788.5 2073.0L1790.5 2102.0L1793.0 2078.0L1795.0 2086.0L1797.5 2039.0L1799.5 2084.0L1801.5 2060.0L1803.0 2090.0L1805.0 2050.0" fill="none" stroke="#ff7a14" stroke-width="5.0" stroke-linejoin="round" stroke-linecap="butt"/>
<path d="M1806.9 1989V2149" stroke="#ff7a14" stroke-width="5.4" fill="none" opacity="0.88"/>
<path d="M181.0 1756.3L215.5 1756.2L237.5 1755.8L240.0 1756.0L244.0 1755.6L247.0 1755.9L249.0 1755.7L251.5 1755.9L252.0 1755.7L257.0 1755.7L259.0 1755.5L262.5 1755.7L266.0 1755.5L268.5 1755.7L272.5 1755.3L278.0 1755.4L279.0 1755.2L281.5 1755.6L290.0 1754.7L292.5 1755.0L295.0 1754.7L296.5 1754.8L299.0 1754.4L303.0 1754.7L305.5 1754.5L307.5 1754.6L312.5 1754.3L317.5 1754.7L323.5 1754.2L331.5 1754.6L336.0 1754.6L337.0 1754.8L339.0 1754.7L341.5 1754.9L342.0 1754.7L344.5 1755.3L347.0 1755.5L349.0 1756.3L353.5 1756.9L356.0 1757.7L357.5 1757.9L362.0 1759.1L366.5 1759.8L369.0 1760.6L371.5 1761.2L374.5 1761.4L376.0 1761.9L378.5 1762.3L380.0 1762.9L383.0 1763.2L384.5 1763.6L385.5 1764.2L390.0 1764.7L392.0 1765.3L394.0 1765.4L395.5 1765.9L398.0 1766.2L399.5 1766.6L401.5 1766.6L406.5 1767.8L410.0 1768.1L413.0 1768.5L414.0 1768.9L421.0 1769.7L424.5 1770.1L425.5 1770.0L427.0 1770.2L428.0 1770.6L433.5 1770.9L435.0 1771.1L436.0 1771.5L440.0 1771.6L445.0 1772.2L449.0 1772.4L450.0 1772.7L453.0 1772.6L455.5 1773.0L458.0 1773.0L461.5 1773.6L463.5 1773.7L466.5 1773.5L476.5 1774.5L479.5 1774.6L480.5 1774.5L481.0 1774.7L482.0 1774.6L485.0 1774.9L488.0 1774.9L490.5 1775.4L492.5 1775.3L495.0 1775.7L499.0 1775.7L501.0 1776.0L502.0 1775.8L503.5 1775.8L504.5 1776.1L508.0 1776.0L511.5 1776.4L512.5 1776.3L515.0 1776.6L519.0 1776.4L524.0 1776.7L529.5 1776.5L530.5 1776.7L531.0 1776.6L534.5 1776.8L536.5 1776.4L546.0 1776.6L552.5 1776.2L556.5 1776.3L559.5 1775.9L562.0 1776.1L570.5 1775.6L573.0 1775.8L575.0 1775.8L576.0 1775.5L578.5 1775.7L579.5 1775.5L581.5 1775.5L584.5 1775.2L590.5 1775.2L593.0 1774.8L595.5 1774.9L597.0 1774.5L602.0 1774.6L605.0 1774.3L607.5 1773.9L615.0 1773.7L619.0 1773.1L621.0 1773.4L623.0 1773.0L628.0 1772.7L630.5 1772.3L634.5 1772.4L639.0 1771.6L643.0 1771.8L647.5 1771.2L650.5 1771.1L653.0 1770.6L657.0 1770.4L658.5 1770.5L662.5 1769.8L666.0 1770.0L668.0 1769.4L674.0 1768.9L675.5 1769.1L679.5 1768.9L683.0 1768.3L685.5 1768.3L694.0 1767.4L697.0 1767.3L699.5 1767.0L703.5 1766.9L704.0 1766.6L708.5 1766.5L710.0 1766.1L712.5 1766.2L713.5 1765.8L717.0 1765.9L719.5 1765.4L721.0 1765.4L725.0 1764.7L727.0 1764.5L729.0 1764.7L731.5 1764.1L734.0 1764.0L735.0 1763.6L736.5 1763.7L737.5 1763.9L740.0 1763.3L741.5 1763.4L742.0 1763.1L744.5 1763.0L746.5 1762.5L750.5 1762.3L751.5 1762.5L756.5 1762.1L758.5 1762.2L761.5 1761.5L764.0 1761.8L767.5 1761.5L768.5 1761.7L770.0 1761.7L774.5 1761.2L777.5 1761.0L780.0 1761.2L782.0 1760.8L784.5 1761.0L786.0 1760.7L786.5 1760.9L789.0 1760.9L789.5 1761.0L792.5 1760.5L796.5 1760.8L799.0 1760.2L800.5 1760.2L801.5 1760.4L803.0 1760.5L805.5 1760.3L807.5 1760.3L808.5 1760.0L811.0 1760.3L813.0 1760.1L814.5 1760.3L816.5 1760.2L820.0 1759.7L823.5 1760.0L825.5 1759.7L826.5 1759.9L829.0 1759.6L831.0 1759.7L832.5 1759.4L834.0 1759.7L838.5 1759.2L840.0 1759.6L842.5 1759.2L845.0 1759.8L847.5 1759.3L849.5 1759.4L854.5 1759.2L857.0 1759.4L863.0 1759.1L866.5 1759.3L870.5 1759.3L871.5 1759.0L874.0 1759.3L881.0 1759.1L883.5 1759.4L886.0 1759.0L889.5 1759.2L893.5 1758.8L898.5 1759.3L902.0 1758.9L906.5 1759.1L911.0 1758.9L914.0 1759.1L920.5 1758.9L921.0 1758.7L923.5 1759.0L925.5 1758.8L932.0 1759.0L933.5 1758.8L940.5 1758.8L943.0 1758.4L946.5 1758.7L947.5 1758.5L950.0 1758.4L952.5 1758.2L955.5 1758.2L958.0 1758.4L959.5 1758.1L962.0 1758.2L963.0 1758.0L965.0 1758.1L967.5 1757.8L970.0 1758.0L972.0 1757.6L974.0 1757.8L975.0 1757.5L977.5 1757.7L980.5 1757.7L981.5 1757.5L982.0 1757.7L983.0 1757.3L984.0 1757.5L985.5 1757.3L986.5 1756.6L987.5 1756.6L989.0 1757.5L989.5 1757.2L990.0 1757.4L991.0 1757.2L993.0 1757.5L995.5 1756.5L999.5 1756.8L1000.0 1756.6L1001.0 1756.5L1002.0 1756.6L1002.5 1756.8L1005.0 1756.3L1006.5 1756.7L1008.0 1756.3L1009.0 1755.5L1011.5 1754.0L1012.0 1754.1L1014.0 1753.5L1016.0 1754.1L1016.5 1754.9L1017.5 1755.3L1018.0 1756.3L1018.5 1756.9L1019.0 1756.6L1020.0 1757.3L1020.5 1756.8L1021.5 1756.9L1022.0 1756.8L1022.5 1756.2L1023.0 1756.1L1024.0 1756.4L1026.0 1757.4L1027.0 1757.4L1027.5 1757.8L1028.5 1757.1L1029.0 1757.2L1030.0 1756.3L1030.5 1756.6L1031.5 1756.3L1032.0 1756.5L1032.5 1757.3L1033.0 1757.0L1034.0 1757.9L1034.5 1758.1L1035.0 1757.3L1035.5 1757.3L1036.0 1756.9L1036.5 1756.8L1037.0 1757.0L1038.5 1758.5L1039.0 1758.3L1040.0 1757.4L1041.0 1757.1L1042.0 1757.9L1042.5 1758.7L1043.5 1759.5L1044.5 1759.4L1045.0 1758.7L1045.5 1758.7L1046.0 1758.3L1046.5 1758.9L1047.0 1759.0L1047.5 1759.7L1048.0 1759.1L1048.5 1759.5L1049.5 1758.0L1050.0 1758.3L1050.5 1759.1L1051.0 1759.4L1051.5 1758.8L1052.0 1759.3L1053.5 1758.6L1054.0 1759.7L1054.5 1759.7L1055.5 1758.5L1056.0 1758.2L1056.5 1756.7L1057.0 1757.0L1057.5 1758.2L1058.5 1758.1L1059.0 1759.1L1059.5 1758.5L1060.0 1756.9L1060.5 1756.8L1061.0 1756.9L1061.5 1756.4L1062.0 1756.7L1063.0 1758.2L1063.5 1758.1L1064.0 1758.2L1064.5 1758.6L1065.5 1757.7L1066.0 1758.0L1067.0 1756.6L1067.5 1756.8L1069.0 1755.7L1070.0 1754.7L1070.5 1754.6L1071.0 1754.0L1071.5 1754.4L1073.0 1753.9L1074.5 1754.3L1075.0 1753.6L1075.5 1753.9L1076.0 1753.7L1076.5 1753.2L1077.5 1754.3L1078.0 1754.5L1079.0 1755.6L1079.5 1755.4L1081.5 1756.7L1084.0 1756.6L1084.5 1757.2L1085.0 1756.8L1085.5 1757.0L1087.0 1757.6L1087.5 1758.7L1088.0 1758.9L1089.5 1758.8L1090.5 1757.7L1091.0 1757.6L1092.0 1756.8L1092.5 1757.6L1093.5 1757.8L1094.5 1758.4L1095.0 1758.1L1096.5 1758.3L1097.0 1758.1L1098.0 1758.5L1099.0 1757.8L1099.5 1757.7L1100.0 1757.2L1100.5 1757.1L1101.5 1757.7L1102.0 1757.4L1103.0 1757.5L1103.5 1757.9L1104.0 1757.7L1105.0 1758.5L1105.5 1758.4L1106.5 1757.7L1108.0 1757.1L1108.5 1757.1L1109.5 1757.5L1110.0 1757.4L1111.5 1758.0L1112.0 1757.7L1113.0 1757.8L1114.5 1757.2L1115.0 1756.7L1116.0 1756.3L1117.0 1756.7L1118.0 1756.7L1118.5 1757.0L1119.5 1756.6L1120.5 1757.0L1121.5 1756.8L1122.5 1756.9L1124.0 1756.6L1125.5 1756.7L1126.0 1756.5L1126.5 1757.0L1127.0 1757.2L1127.5 1757.0L1128.5 1757.5L1129.5 1757.0L1131.0 1756.9L1132.0 1757.2L1132.5 1756.9L1133.5 1757.1L1134.5 1757.0L1135.5 1757.3L1136.0 1757.1L1137.5 1757.3L1140.0 1757.1L1141.0 1757.4L1144.0 1757.0L1148.5 1757.6L1150.5 1757.4L1151.0 1757.6L1153.0 1757.7L1154.5 1757.5L1160.5 1758.0L1166.0 1757.9L1174.0 1758.5L1179.5 1758.3L1180.5 1758.5L1185.5 1758.7L1187.0 1758.7L1189.5 1758.4L1193.0 1758.7L1196.0 1758.2L1201.0 1758.7L1204.5 1758.4L1211.5 1758.8L1214.0 1759.6L1215.0 1759.7L1219.5 1761.0L1221.0 1761.6L1222.0 1762.3L1226.5 1763.8L1229.5 1765.2L1235.0 1767.2L1239.5 1768.6L1242.0 1769.1L1247.0 1768.8L1249.0 1768.5L1251.5 1768.4L1253.5 1767.8L1256.0 1767.7L1257.5 1767.3L1260.0 1767.1L1263.0 1766.4L1269.5 1765.4L1272.0 1764.8L1276.0 1764.8L1277.5 1764.4L1280.5 1764.1L1282.5 1764.1L1285.0 1763.9L1286.5 1764.1L1288.5 1763.8L1290.5 1764.0L1293.0 1763.8L1294.5 1764.0L1298.5 1763.8L1299.0 1763.6L1302.5 1763.8L1304.5 1763.6L1309.5 1763.7L1311.5 1763.4L1318.0 1763.5L1320.5 1763.3L1323.0 1763.6L1326.5 1763.2L1329.0 1763.5L1331.0 1763.0L1332.0 1763.1L1332.5 1763.3L1337.5 1763.1L1340.0 1763.4L1345.0 1762.9L1347.5 1763.2L1349.5 1763.3L1351.5 1763.1L1353.0 1762.7L1355.5 1762.8L1361.0 1762.4L1364.5 1762.1L1366.5 1761.7L1369.5 1761.6L1372.0 1761.2L1374.5 1761.4L1377.0 1760.8L1383.0 1761.1L1384.0 1760.9L1387.0 1761.0L1390.0 1760.8L1393.5 1761.1L1396.0 1760.8L1398.0 1760.9L1401.0 1760.7L1403.5 1761.0L1406.5 1760.9L1408.5 1761.1L1413.5 1761.0L1415.0 1761.4L1417.0 1761.1L1418.5 1761.4L1421.0 1761.0L1428.0 1761.9L1431.0 1762.7L1434.0 1762.8L1440.0 1764.0L1441.5 1764.4L1443.0 1764.6L1444.0 1764.5L1445.0 1764.9L1448.5 1765.4L1453.0 1766.9L1455.5 1767.5L1458.5 1769.2L1460.0 1770.4L1462.0 1772.4L1465.5 1776.7L1467.5 1780.0L1469.5 1783.8L1475.5 1797.0L1480.5 1808.7L1483.5 1816.5L1494.0 1841.3L1498.5 1852.5L1507.0 1877.1L1512.5 1890.1L1519.5 1903.4L1524.0 1910.7L1527.5 1915.9L1529.5 1917.6L1534.0 1920.5L1536.0 1920.9L1537.0 1920.9L1538.0 1920.7L1540.5 1918.6L1541.5 1917.4L1542.0 1916.5L1543.5 1910.7L1549.0 1883.0L1550.0 1880.3L1552.0 1879.0L1553.0 1878.7L1555.5 1878.2L1557.5 1878.1L1559.5 1878.2L1563.5 1877.9L1564.5 1877.5L1565.5 1876.5L1567.5 1872.9L1571.5 1863.7L1572.5 1860.7L1577.0 1843.8L1578.5 1839.0L1580.0 1835.5L1582.0 1832.0L1586.5 1826.0L1591.5 1820.7L1593.5 1819.1L1595.5 1817.1L1597.5 1815.7L1599.0 1815.0L1601.0 1813.8L1604.0 1812.9L1609.0 1811.9L1610.5 1811.7L1611.5 1811.8L1613.5 1811.3L1616.0 1811.4L1619.5 1811.1L1621.5 1811.1L1623.5 1810.7L1625.0 1811.0L1630.0 1810.4L1633.0 1810.6L1635.5 1810.2L1638.0 1810.7L1640.5 1810.4L1642.0 1810.6L1643.0 1810.4L1645.5 1810.6L1648.5 1810.5L1649.5 1810.7L1652.0 1810.5L1652.5 1810.7L1656.0 1811.1L1661.5 1811.0L1664.0 1811.4L1665.5 1811.2L1667.0 1811.4L1669.5 1812.0L1671.0 1811.9L1673.0 1812.0L1676.5 1812.9L1679.0 1814.1L1680.0 1814.3L1683.5 1816.6L1685.0 1817.9L1687.0 1820.4L1691.5 1828.2L1697.5 1845.0L1701.0 1854.1L1703.0 1858.7L1704.0 1860.3L1706.0 1862.7L1707.5 1864.2L1711.0 1866.5L1713.0 1868.4L1714.5 1870.2L1718.0 1875.6L1722.5 1884.2L1726.5 1891.1L1732.0 1901.9L1734.5 1905.3L1736.0 1906.6L1736.5 1906.9L1737.0 1907.0L1738.0 1906.8L1739.5 1905.4L1741.5 1902.2L1744.0 1897.4L1746.0 1891.5L1751.5 1871.5L1753.5 1866.0L1754.5 1864.2L1755.5 1863.1L1757.5 1862.0L1759.0 1861.6L1762.0 1862.0L1765.0 1859.0L1768.0 1857.0L1770.5 1853.0L1772.5 1839.0L1774.5 1855.0L1777.0 1852.0L1779.5 1855.0L1782.0 1850.0L1784.5 1853.0L1786.0 1838.0L1788.5 1856.0L1791.0 1846.0L1793.0 1851.0L1795.0 1843.0L1797.5 1810.0L1799.5 1866.0L1801.5 1838.0L1803.0 1872.0L1805.0 1830.0" fill="none" stroke="#a9561f" stroke-width="5.0" stroke-linejoin="round" stroke-linecap="butt"/>
<path d="M1806.9 1787V1949" stroke="#a9561f" stroke-width="5.4" fill="none" opacity="0.88"/>
</g>
<g filter="url(#soft)">
<path d="M722.40 193.55C719.80 187.85 709.40 179.87 709.40 172.18C709.40 167.33 712.00 165.05 715.64 165.05C719.28 165.05 721.36 167.62 722.40 172.32C723.44 167.62 725.52 165.05 729.16 165.05C732.80 165.05 735.40 167.33 735.40 172.18C735.40 179.87 725.00 187.85 722.40 193.55Z" fill="#000" stroke="none"/>
<path d="M624.90 303.75C622.30 298.05 611.90 290.07 611.90 282.38C611.90 277.53 614.50 275.25 618.14 275.25C621.78 275.25 623.86 277.81 624.90 282.52C625.94 277.81 628.02 275.25 631.66 275.25C635.30 275.25 637.90 277.53 637.90 282.38C637.90 290.07 627.50 298.05 624.90 303.75Z" fill="#000" stroke="none"/>
<path d="M981.90 341.05C979.30 335.35 968.90 327.37 968.90 319.68C968.90 314.83 971.50 312.55 975.14 312.55C978.78 312.55 980.86 315.12 981.90 319.82C982.94 315.12 985.02 312.55 988.66 312.55C992.30 312.55 994.90 314.83 994.90 319.68C994.90 327.37 984.50 335.35 981.90 341.05Z" fill="#000" stroke="none"/>
<path d="M1352.40 341.05C1349.80 335.35 1339.40 327.37 1339.40 319.68C1339.40 314.83 1342.00 312.55 1345.64 312.55C1349.28 312.55 1351.36 315.12 1352.40 319.82C1353.44 315.12 1355.52 312.55 1359.16 312.55C1362.80 312.55 1365.40 314.83 1365.40 319.68C1365.40 327.37 1355.00 335.35 1352.40 341.05Z" fill="#000" stroke="none"/>
<path d="M1622.20 347.55C1619.60 341.85 1609.20 333.87 1609.20 326.18C1609.20 321.33 1611.80 319.05 1615.44 319.05C1619.08 319.05 1621.16 321.62 1622.20 326.32C1623.24 321.62 1625.32 319.05 1628.96 319.05C1632.60 319.05 1635.20 321.33 1635.20 326.18C1635.20 333.87 1624.80 341.85 1622.20 347.55Z" fill="#000" stroke="none"/>
<path d="M1727.50 350.15C1724.90 344.45 1714.50 336.47 1714.50 328.77C1714.50 323.93 1717.10 321.65 1720.74 321.65C1724.38 321.65 1726.46 324.21 1727.50 328.92C1728.54 324.21 1730.62 321.65 1734.26 321.65C1737.90 321.65 1740.50 323.93 1740.50 328.77C1740.50 336.47 1730.10 344.45 1727.50 350.15Z" fill="#000" stroke="none"/>
<path d="M1478.80 130.35C1476.20 124.65 1465.80 116.67 1465.80 108.97C1465.80 104.13 1468.40 101.85 1472.04 101.85C1475.68 101.85 1477.76 104.41 1478.80 109.12C1479.84 104.41 1481.92 101.85 1485.56 101.85C1489.20 101.85 1491.80 104.13 1491.80 108.97C1491.80 116.67 1481.40 124.65 1478.80 130.35Z" fill="#000" stroke="none"/>
<circle cx="521.6" cy="341.2" r="9.2" fill="#000" stroke="none"/>
<circle cx="561.3" cy="267.0" r="9.2" fill="#000" stroke="none"/>
<circle cx="455.3" cy="883.6" r="9.2" fill="#000" stroke="none"/>
<circle cx="1637.6" cy="114.6" r="9.2" fill="#000" stroke="none"/>
<text transform="translate(236.6 156.4) scale(0.97 1)" font-size="91" fill="#000" stroke="#000" stroke-width="0.4">a</text>
<text x="1511.5" y="127.6" font-size="57.2" text-anchor="start">Zn</text>
<text x="1662.5" y="127.6" font-size="57.2" text-anchor="start">ZnO</text>
<text x="194.3" y="451.5" font-size="57.2" text-anchor="start">2000 ml/min</text>
<text x="192.5" y="643.2" font-size="57.2" text-anchor="start" dx="0 -3.3">1000 ml/min</text>
<text x="197.0" y="810.0" font-size="57.2" text-anchor="start">200 ml/min</text>
<text x="197.5" y="995.6" font-size="57.2" text-anchor="start" dx="0 -3.3">100 ml/min</text>
<text x="199.5" y="1187.2" font-size="57.2" text-anchor="start">Static</text>
<text transform="translate(179.6 1302.2) scale(0.928 1)" font-size="50.6" text-anchor="middle" stroke-width="1.0" fill="#1c1c1c" stroke="#1c1c1c">20</text>
<text transform="translate(412.5 1302.2) scale(0.928 1)" font-size="50.6" text-anchor="middle" stroke-width="1.0" fill="#1c1c1c" stroke="#1c1c1c">30</text>
<text transform="translate(645.4 1302.2) scale(0.928 1)" font-size="50.6" text-anchor="middle" stroke-width="1.0" fill="#1c1c1c" stroke="#1c1c1c">40</text>
<text transform="translate(878.3 1302.2) scale(0.928 1)" font-size="50.6" text-anchor="middle" stroke-width="1.0" fill="#1c1c1c" stroke="#1c1c1c">50</text>
<text transform="translate(1111.3 1302.2) scale(0.928 1)" font-size="50.6" text-anchor="middle" stroke-width="1.0" fill="#1c1c1c" stroke="#1c1c1c">60</text>
<text transform="translate(1344.2 1302.2) scale(0.928 1)" font-size="50.6" text-anchor="middle" stroke-width="1.0" fill="#1c1c1c" stroke="#1c1c1c">70</text>
<text transform="translate(1577.1 1302.2) scale(0.928 1)" font-size="50.6" text-anchor="middle" stroke-width="1.0" fill="#1c1c1c" stroke="#1c1c1c">80</text>
<text transform="translate(1810.0 1302.2) scale(0.928 1)" font-size="50.6" text-anchor="middle" stroke-width="1.0" fill="#1c1c1c" stroke="#1c1c1c">90</text>
<text x="995.6" y="1391.8" font-size="57.9" text-anchor="middle">2 Theta (deg)</text>
<text transform="translate(76.7 661.5) rotate(-90)" font-size="57.2" text-anchor="middle">Intensity (a.u)</text>
<text transform="translate(233.6 1625.6) scale(1.09 1)" font-size="93" fill="#000" stroke="#000" stroke-width="0.4">b</text>
<text x="527.0" y="1576.6" font-size="60.0" text-anchor="middle">C-H</text>
<text transform="translate(1192.3 1574.6) scale(0.966 1)" font-size="60">CO<tspan font-size="31.5" dy="-31.2" stroke-width="0.7" fill="#222" stroke="#222">2−</tspan><tspan font-size="31.5" dx="-35.0" dy="53.8" stroke-width="0.7" fill="#222" stroke="#222">3</tspan></text>
<text transform="translate(1495.3 1574.6) scale(0.966 1)" font-size="60">PO<tspan font-size="31.5" dy="-31.2" stroke-width="0.7" fill="#222" stroke="#222">3−</tspan><tspan font-size="31.5" dx="-36.0" dy="53.0" stroke-width="0.7" fill="#222" stroke="#222">4</tspan></text>
<text x="1686.5" y="1573.8" font-size="57.2" text-anchor="start">ZnO</text>
<text x="201.0" y="1837.2" font-size="57.2" text-anchor="start">2000 ml/min</text>
<text x="198.0" y="2029.4" font-size="57.2" text-anchor="start" dx="0 -3.3">1000 ml/min</text>
<text x="200.6" y="2236.6" font-size="57.7" text-anchor="start">200 ml/min</text>
<text x="199.5" y="2420.0" font-size="57.7" text-anchor="start" dx="0 -3.3">100 ml/min</text>
<text x="200.0" y="2611.0" font-size="57.2" text-anchor="start">Static</text>
<text transform="translate(181.0 2747.0) scale(0.928 1)" font-size="50.6" text-anchor="middle" stroke-width="1.0" fill="#1c1c1c" stroke="#1c1c1c">4000</text>
<text transform="translate(361.7 2747.0) scale(0.928 1)" font-size="50.6" text-anchor="middle" stroke-width="1.0" fill="#1c1c1c" stroke="#1c1c1c">3600</text>
<text transform="translate(542.4 2747.0) scale(0.928 1)" font-size="50.6" text-anchor="middle" stroke-width="1.0" fill="#1c1c1c" stroke="#1c1c1c">3200</text>
<text transform="translate(723.2 2747.0) scale(0.928 1)" font-size="50.6" text-anchor="middle" stroke-width="1.0" fill="#1c1c1c" stroke="#1c1c1c">2800</text>
<text transform="translate(903.9 2747.0) scale(0.928 1)" font-size="50.6" text-anchor="middle" stroke-width="1.0" fill="#1c1c1c" stroke="#1c1c1c">2400</text>
<text transform="translate(1084.6 2747.0) scale(0.928 1)" font-size="50.6" text-anchor="middle" stroke-width="1.0" fill="#1c1c1c" stroke="#1c1c1c">2000</text>
<text transform="translate(1265.3 2747.0) scale(0.928 1)" font-size="50.6" dx="0 -2.9" text-anchor="middle" stroke-width="1.0" fill="#1c1c1c" stroke="#1c1c1c">1600</text>
<text transform="translate(1446.1 2747.0) scale(0.928 1)" font-size="50.6" dx="0 -2.9" text-anchor="middle" stroke-width="1.0" fill="#1c1c1c" stroke="#1c1c1c">1200</text>
<text transform="translate(1626.8 2747.0) scale(0.928 1)" font-size="50.6" text-anchor="middle" stroke-width="1.0" fill="#1c1c1c" stroke="#1c1c1c">800</text>
<text transform="translate(1807.5 2747.0) scale(0.928 1)" font-size="50.6" text-anchor="middle" stroke-width="1.0" fill="#1c1c1c" stroke="#1c1c1c">400</text>
<text x="723.0" y="2847.4" font-size="57.2">Wave numbers (cm<tspan font-size="31.5" dy="-27.5" stroke-width="0.8">-1</tspan><tspan dy="27.5">)</tspan></text>
<text transform="translate(97.6 2126.5) rotate(-90)" font-size="57.2" text-anchor="middle">Transmittance (%)</text>
</g>
</svg>
</body>
</html>
